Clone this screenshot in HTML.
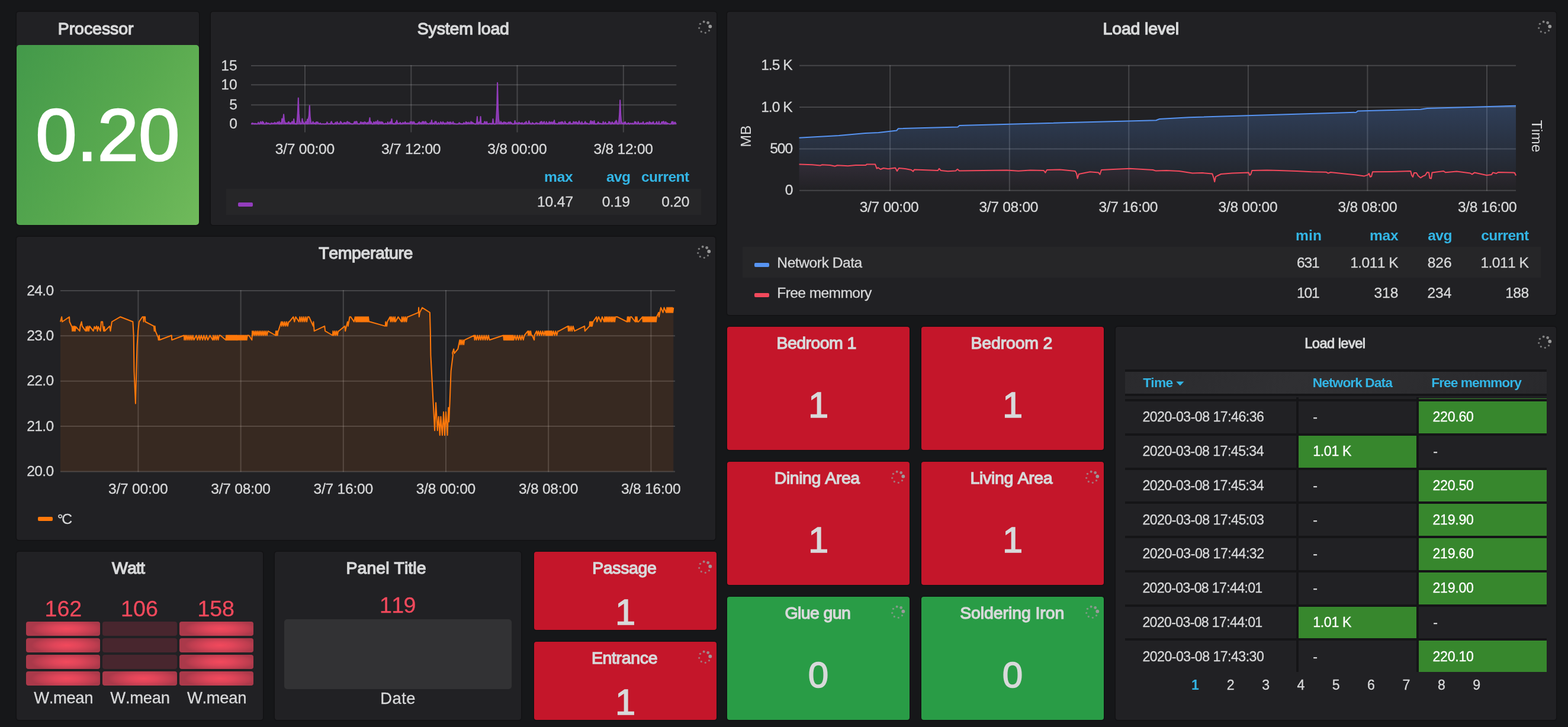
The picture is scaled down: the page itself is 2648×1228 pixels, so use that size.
<!DOCTYPE html>
<html lang="en"><head><meta charset="utf-8"><title>Home dashboard - Grafana</title>
<style>
html,body{margin:0;padding:0}
body{width:2648px;height:1228px;overflow:hidden;background:#161719;position:relative;
font-family:"Liberation Sans",sans-serif;color:#d8d9da;font-kerning:none;-webkit-font-smoothing:antialiased}
#root{position:absolute;left:0;top:0;width:2648px;height:1228px;will-change:transform}
.panel{position:absolute;background:#212124;border-radius:4px;box-shadow:0 0 0 1.5px #121214}
.tile{position:absolute;border-radius:4px;box-shadow:0 0 0 1.5px #121214}
.r{position:absolute}
.t{position:absolute;white-space:nowrap;color:#d8d9da}
.rot{line-height:1;transform-origin:50% 50%}
.ch{position:absolute;overflow:visible}
.sp{position:absolute}
.sp circle{fill:#9b9b9b}
.g{stroke:rgba(200,200,200,0.22);stroke-width:2}
</style></head>
<body>
<div id="root">
<div class="panel" id="p-processor" style="left:28px;top:20px;width:308px;height:360px"></div>
<div class="panel" id="p-sysload" style="left:356px;top:20px;width:854px;height:360px"></div>
<div class="panel" id="p-loadgraph" style="left:1228px;top:20px;width:1400px;height:512px"></div>
<div class="panel" id="p-temp" style="left:28px;top:400px;width:1180px;height:512px"></div>
<div class="panel" id="p-watt" style="left:28px;top:932px;width:416px;height:284px"></div>
<div class="panel" id="p-ptitle" style="left:464px;top:932px;width:416px;height:284px"></div>
<div class="panel" id="p-loadtable" style="left:1884px;top:552px;width:744px;height:664px"></div>
<!-- Processor -->
<span class="t title" style="left:97.71px;top:32px;font-size:28.50px;line-height:32px;letter-spacing:-0.050px;-webkit-text-stroke:1.30px #d8d9da;">Processor</span>
<div class="r" style="left:28px;top:76px;width:308px;height:304px;border-radius:5px;background:linear-gradient(120deg,#43994a 0%,#58a94f 52%,#70ba5b 100%)"></div>
<svg class="ch" style="left:28px;top:76px" width="308" height="304" viewBox="28 76 308 304"><text x="182" y="271.2" text-anchor="middle" font-family="'Liberation Sans',sans-serif" font-size="125" fill="#fff" stroke="#fff" stroke-width="2.5">0.20</text></svg>
<!-- System load -->
<span class="t title" style="left:704.77px;top:32px;font-size:28.50px;line-height:32px;letter-spacing:-0.161px;-webkit-text-stroke:1.30px #d8d9da;">System load</span>
<svg class="sp" style="left:1175.2px;top:31.0px" width="30" height="30" viewBox="-15 -15 30 30"><circle cx="9.31" cy="-1.31" r="2.90" opacity="1.00"/><circle cx="5.66" cy="-7.51" r="2.40" opacity="0.85"/><circle cx="-1.31" cy="-9.31" r="2.00" opacity="0.80"/><circle cx="-7.51" cy="-5.66" r="1.70" opacity="0.75"/><circle cx="-9.31" cy="1.31" r="1.60" opacity="0.70"/><circle cx="-5.66" cy="7.51" r="1.65" opacity="0.70"/><circle cx="1.31" cy="9.31" r="1.60" opacity="0.70"/><circle cx="7.51" cy="5.66" r="1.65" opacity="0.70"/></svg>
<svg class="ch" style="left:356px;top:20px" width="854" height="360" viewBox="356 20 854 360"><line x1="424" x2="1142.3" y1="111.0" y2="111.0" class="g"/><line x1="424" x2="1142.3" y1="143.2" y2="143.2" class="g"/><line x1="424" x2="1142.3" y1="177.3" y2="177.3" class="g"/><line x1="424" x2="1142.3" y1="209.4" y2="209.4" class="g"/><line x1="515.0" x2="515.0" y1="110" y2="223.5" class="g"/><line x1="694.3" x2="694.3" y1="110" y2="223.5" class="g"/><line x1="873.5" x2="873.5" y1="110" y2="223.5" class="g"/><line x1="1052.8" x2="1052.8" y1="110" y2="223.5" class="g"/><polygon points="424,210 424.0,209.1 424.9,209.4 425.9,207.8 426.8,209.5 427.8,208.4 428.7,209.0 429.7,209.5 430.6,208.5 431.6,209.5 432.5,208.8 433.5,209.5 434.4,209.5 435.4,208.8 436.3,206.6 437.3,209.5 438.2,209.3 439.2,207.9 440.1,205.6 441.1,208.2 442.0,208.9 443.0,205.3 443.9,209.5 444.9,206.4 445.8,209.2 446.8,209.4 447.7,209.5 448.7,209.2 449.6,206.7 450.6,209.4 451.5,208.2 452.5,207.9 453.4,209.0 454.4,208.3 455.3,209.5 456.3,209.5 457.2,209.4 458.2,207.6 459.1,208.8 460.1,209.2 461.0,208.1 462.0,208.7 462.9,209.2 463.9,206.8 464.8,207.5 465.8,209.3 466.7,208.2 467.7,208.4 468.6,206.2 469.6,207.3 470.5,209.2 471.5,205.3 472.4,209.5 473.4,208.9 474.3,207.1 475.3,209.4 476.2,200.6 477.2,206.2 478.1,201.8 479.1,193.2 480.0,202.4 481.0,206.2 481.9,209.2 482.9,207.5 483.8,208.1 484.8,208.2 485.7,208.7 486.7,206.5 487.6,205.6 488.6,208.6 489.5,207.7 490.5,209.5 491.4,207.5 492.4,207.8 493.3,205.2 494.3,206.6 495.2,209.2 496.2,201.0 497.1,207.7 498.1,209.5 499.0,208.7 500.0,209.4 500.9,209.5 501.9,202.9 502.8,190.2 503.8,165.6 504.7,191.9 505.7,203.8 506.6,206.2 507.6,209.5 508.5,208.7 509.5,208.3 510.4,200.5 511.4,206.7 512.3,206.3 513.3,209.2 514.2,208.9 515.2,209.0 516.1,206.1 517.1,205.5 518.0,209.4 519.0,201.5 519.9,209.3 520.9,200.0 521.8,195.6 522.8,178.5 523.7,196.8 524.7,205.1 525.6,208.9 526.6,209.0 527.5,208.2 528.5,205.5 529.4,207.6 530.4,208.5 531.3,208.0 532.3,207.6 533.2,209.5 534.2,206.0 535.2,207.0 536.1,206.2 537.1,206.8 538.0,208.9 539.0,208.9 539.9,209.5 540.9,207.9 541.8,209.5 542.8,209.5 543.7,209.4 544.7,209.4 545.6,209.1 546.6,209.5 547.5,209.5 548.5,209.4 549.4,209.5 550.4,209.0 551.3,209.5 552.3,206.2 553.2,208.0 554.2,209.4 555.1,209.3 556.1,209.1 557.0,209.0 558.0,209.5 558.9,206.4 559.9,205.2 560.8,208.7 561.8,208.6 562.7,209.5 563.7,209.5 564.6,209.1 565.6,209.3 566.5,206.6 567.5,209.4 568.4,209.5 569.4,205.6 570.3,208.4 571.3,209.4 572.2,208.4 573.2,209.5 574.1,208.4 575.1,205.3 576.0,206.3 577.0,207.5 577.9,209.3 578.9,209.0 579.8,209.4 580.8,207.0 581.7,208.4 582.7,207.0 583.6,209.1 584.6,209.3 585.5,206.7 586.5,205.2 587.4,206.4 588.4,206.8 589.3,206.7 590.3,207.2 591.2,209.3 592.2,208.5 593.1,209.0 594.1,209.5 595.0,209.5 596.0,209.2 596.9,209.3 597.9,207.5 598.8,205.5 599.8,208.8 600.7,205.7 601.7,205.2 602.6,205.5 603.6,209.0 604.5,209.3 605.5,209.3 606.4,209.4 607.4,209.4 608.3,207.9 609.3,206.0 610.2,206.5 611.2,208.6 612.1,207.8 613.1,206.8 614.0,209.5 615.0,207.7 615.9,205.9 616.9,206.9 617.8,207.2 618.8,208.6 619.7,209.4 620.7,206.9 621.6,209.1 622.6,206.8 623.5,205.4 624.5,199.0 625.4,208.9 626.4,205.6 627.3,207.3 628.3,209.4 629.2,209.5 630.2,209.4 631.1,206.0 632.1,206.8 633.0,209.4 634.0,206.6 634.9,205.3 635.9,207.8 636.8,209.1 637.8,203.4 638.7,209.4 639.7,209.5 640.6,205.4 641.6,207.8 642.5,208.4 643.5,205.7 644.4,208.8 645.4,206.2 646.3,206.6 647.3,209.4 648.2,209.3 649.2,209.2 650.1,209.3 651.1,208.1 652.0,209.3 653.0,208.9 653.9,209.4 654.9,205.9 655.8,209.1 656.8,208.7 657.7,208.2 658.7,206.0 659.6,208.8 660.6,205.9 661.5,201.0 662.5,208.4 663.4,208.4 664.4,209.5 665.3,208.8 666.3,209.4 667.2,209.5 668.2,206.8 669.1,209.4 670.1,203.5 671.0,207.3 672.0,208.3 672.9,209.1 673.9,208.5 674.8,208.3 675.8,206.9 676.7,209.5 677.7,208.3 678.6,209.3 679.6,209.2 680.5,207.0 681.5,208.5 682.4,208.3 683.4,207.1 684.3,205.9 685.3,208.8 686.2,208.0 687.2,208.5 688.1,208.5 689.1,207.5 690.0,208.7 691.0,208.4 691.9,208.6 692.9,205.6 693.8,207.5 694.8,206.2 695.7,205.6 696.7,209.3 697.6,208.3 698.6,205.6 699.5,206.5 700.5,209.4 701.4,209.5 702.4,208.8 703.3,209.5 704.3,209.3 705.2,209.5 706.2,207.7 707.1,206.9 708.1,206.0 709.0,209.4 710.0,207.4 710.9,207.7 711.9,209.4 712.8,206.2 713.8,205.4 714.7,209.3 715.7,205.5 716.6,208.9 717.6,208.6 718.5,205.2 719.5,206.6 720.4,209.4 721.4,208.8 722.3,208.5 723.3,209.1 724.2,209.4 725.2,209.1 726.1,207.4 727.1,209.5 728.0,208.3 729.0,203.0 729.9,209.5 730.9,209.1 731.8,207.9 732.8,208.5 733.7,209.5 734.7,205.2 735.6,206.9 736.6,205.4 737.5,209.5 738.5,209.3 739.4,209.5 740.4,207.0 741.3,209.3 742.3,209.5 743.2,208.8 744.2,205.9 745.1,206.7 746.1,209.3 747.0,209.4 748.0,205.8 748.9,208.2 749.9,207.5 750.8,209.5 751.8,209.5 752.7,207.6 753.7,208.8 754.6,209.5 755.6,205.7 756.5,207.9 757.5,206.8 758.4,209.5 759.4,206.4 760.3,209.5 761.3,206.3 762.2,208.7 763.2,209.1 764.1,208.3 765.1,205.8 766.0,209.3 767.0,209.5 767.9,208.4 768.9,209.3 769.8,209.5 770.8,209.4 771.7,209.5 772.7,209.4 773.6,209.2 774.6,209.2 775.5,207.1 776.5,209.2 777.4,208.5 778.4,209.4 779.3,209.1 780.3,209.5 781.2,209.3 782.2,209.5 783.1,207.3 784.1,208.3 785.0,209.4 786.0,208.6 786.9,205.7 787.9,209.5 788.8,206.7 789.8,208.8 790.7,208.6 791.7,206.5 792.6,208.9 793.6,208.5 794.5,207.6 795.5,205.3 796.4,209.1 797.4,206.6 798.3,207.4 799.3,207.9 800.2,208.9 801.2,209.1 802.1,209.5 803.1,209.5 804.0,209.5 805.0,207.2 805.9,197.0 806.9,209.4 807.8,209.5 808.8,206.5 809.7,206.3 810.7,207.7 811.6,197.0 812.6,209.3 813.5,209.2 814.5,208.7 815.4,209.4 816.4,208.8 817.3,209.3 818.3,205.5 819.2,205.4 820.2,208.3 821.1,209.3 822.1,205.4 823.0,209.2 824.0,209.0 824.9,209.5 825.9,209.0 826.8,208.6 827.8,208.5 828.7,209.4 829.7,208.5 830.6,209.5 831.6,209.3 832.5,201.0 833.5,208.9 834.4,209.5 835.4,209.5 836.3,209.2 837.3,209.3 838.2,199.8 839.2,179.4 840.1,139.8 841.1,182.1 842.0,201.2 843.0,206.2 843.9,208.9 844.9,209.1 845.8,205.2 846.8,209.4 847.7,207.3 848.7,207.8 849.6,209.5 850.6,206.5 851.5,206.1 852.5,207.9 853.4,207.3 854.4,206.7 855.3,209.4 856.3,208.4 857.2,208.5 858.2,206.5 859.1,206.8 860.1,206.6 861.0,208.2 862.0,206.1 862.9,207.6 863.9,207.5 864.8,209.3 865.8,209.5 866.7,209.4 867.7,209.0 868.6,209.5 869.6,204.0 870.5,208.3 871.5,207.9 872.4,207.9 873.4,207.6 874.3,208.6 875.3,209.5 876.2,206.8 877.2,207.2 878.1,208.5 879.1,208.4 880.0,207.7 881.0,209.5 881.9,207.3 882.9,209.3 883.8,209.5 884.8,209.3 885.7,207.3 886.7,209.4 887.6,207.2 888.6,205.3 889.5,208.6 890.5,209.0 891.4,208.6 892.4,207.6 893.3,204.3 894.3,208.0 895.2,207.8 896.2,209.5 897.1,209.4 898.1,209.3 899.0,207.2 900.0,209.2 900.9,208.2 901.9,209.5 902.8,209.5 903.8,209.3 904.7,207.7 905.7,207.5 906.6,207.6 907.6,209.2 908.5,208.5 909.5,208.7 910.4,208.7 911.4,209.5 912.3,206.1 913.3,209.4 914.2,205.3 915.2,205.7 916.1,209.5 917.1,208.7 918.0,206.7 919.0,205.4 919.9,208.7 920.9,209.3 921.8,209.4 922.8,205.6 923.7,209.4 924.7,208.2 925.6,209.4 926.6,208.4 927.5,205.5 928.5,209.4 929.4,206.7 930.4,208.5 931.3,206.1 932.3,207.5 933.2,209.3 934.2,206.0 935.1,208.6 936.1,203.2 937.0,209.5 938.0,208.6 938.9,208.7 939.9,209.2 940.8,209.4 941.8,209.1 942.7,209.2 943.7,206.5 944.6,209.5 945.6,207.2 946.5,206.5 947.5,209.5 948.4,205.8 949.4,207.4 950.3,206.0 951.3,209.2 952.2,209.0 953.2,208.9 954.1,205.1 955.1,208.1 956.0,209.0 957.0,208.8 957.9,209.2 958.9,209.5 959.8,209.5 960.8,206.5 961.7,209.2 962.7,205.7 963.6,209.3 964.6,209.3 965.5,208.5 966.5,209.4 967.4,209.0 968.4,205.5 969.3,206.1 970.3,206.7 971.2,207.9 972.2,205.9 973.1,205.7 974.1,208.3 975.0,207.4 976.0,209.5 976.9,207.3 977.9,204.5 978.8,207.1 979.8,207.8 980.7,209.2 981.7,209.5 982.6,205.8 983.6,209.5 984.5,208.7 985.5,209.1 986.4,209.2 987.4,207.2 988.3,205.3 989.3,209.3 990.2,207.8 991.2,209.2 992.1,208.3 993.1,208.9 994.0,209.4 995.0,209.4 995.9,209.4 996.9,206.0 997.8,204.0 998.8,209.3 999.7,206.0 1000.7,205.1 1001.6,208.7 1002.6,209.4 1003.5,204.0 1004.5,209.5 1005.4,209.1 1006.4,209.5 1007.3,209.3 1008.3,209.3 1009.2,208.2 1010.2,206.1 1011.1,207.2 1012.1,208.9 1013.0,208.9 1014.0,208.4 1014.9,209.0 1015.9,209.1 1016.8,209.5 1017.8,209.2 1018.7,205.4 1019.7,209.5 1020.6,208.5 1021.6,207.9 1022.5,206.3 1023.5,209.3 1024.4,209.3 1025.4,209.3 1026.3,208.9 1027.3,208.8 1028.2,205.5 1029.2,206.4 1030.1,206.2 1031.1,209.5 1032.0,209.5 1033.0,207.4 1033.9,206.0 1034.9,208.7 1035.8,208.1 1036.8,209.5 1037.7,208.9 1038.7,205.8 1039.6,206.6 1040.6,203.4 1041.5,205.4 1042.5,209.3 1043.4,209.5 1044.4,209.4 1045.3,203.3 1046.3,191.7 1047.2,169.2 1048.2,193.3 1049.1,204.1 1050.1,207.1 1051.0,208.7 1052.0,208.3 1052.9,209.5 1053.9,206.9 1054.8,209.3 1055.8,205.8 1056.7,207.8 1057.7,209.2 1058.6,209.5 1059.6,209.3 1060.5,207.9 1061.5,207.5 1062.4,209.5 1063.4,209.5 1064.3,208.4 1065.3,208.2 1066.2,209.0 1067.2,209.3 1068.1,208.1 1069.1,209.5 1070.0,209.2 1071.0,208.7 1071.9,205.5 1072.9,207.8 1073.8,206.1 1074.8,208.6 1075.7,209.3 1076.7,209.3 1077.6,205.5 1078.6,207.5 1079.5,209.2 1080.5,209.5 1081.4,208.5 1082.4,207.7 1083.3,208.8 1084.3,209.3 1085.2,207.7 1086.2,205.8 1087.1,209.3 1088.1,209.5 1089.0,209.1 1090.0,208.8 1090.9,207.6 1091.9,209.4 1092.8,206.8 1093.8,207.2 1094.7,208.5 1095.7,209.4 1096.6,205.4 1097.6,209.2 1098.5,206.7 1099.5,209.3 1100.4,209.3 1101.4,207.1 1102.3,209.2 1103.3,205.6 1104.2,208.6 1105.2,209.4 1106.1,209.3 1107.1,208.9 1108.0,207.7 1109.0,205.6 1109.9,209.4 1110.9,208.9 1111.8,209.4 1112.8,205.3 1113.7,209.4 1114.7,209.5 1115.6,209.5 1116.6,208.9 1117.5,206.0 1118.5,206.1 1119.4,207.3 1120.4,205.1 1121.3,205.7 1122.3,209.1 1123.2,209.4 1124.2,205.7 1125.1,207.2 1126.1,209.5 1127.0,207.7 1128.0,209.0 1128.9,209.0 1129.9,209.1 1130.8,209.4 1131.8,209.5 1132.7,209.2 1133.7,209.1 1134.6,205.5 1135.6,209.5 1136.5,205.4 1137.5,209.4 1138.4,209.0 1139.4,206.6 1140.3,206.6 1141.3,208.8 1142.2,209.5 1142.3,210" fill="#913cba" fill-opacity="0.85"/><polyline points="424.0,209.1 424.9,209.4 425.9,207.8 426.8,209.5 427.8,208.4 428.7,209.0 429.7,209.5 430.6,208.5 431.6,209.5 432.5,208.8 433.5,209.5 434.4,209.5 435.4,208.8 436.3,206.6 437.3,209.5 438.2,209.3 439.2,207.9 440.1,205.6 441.1,208.2 442.0,208.9 443.0,205.3 443.9,209.5 444.9,206.4 445.8,209.2 446.8,209.4 447.7,209.5 448.7,209.2 449.6,206.7 450.6,209.4 451.5,208.2 452.5,207.9 453.4,209.0 454.4,208.3 455.3,209.5 456.3,209.5 457.2,209.4 458.2,207.6 459.1,208.8 460.1,209.2 461.0,208.1 462.0,208.7 462.9,209.2 463.9,206.8 464.8,207.5 465.8,209.3 466.7,208.2 467.7,208.4 468.6,206.2 469.6,207.3 470.5,209.2 471.5,205.3 472.4,209.5 473.4,208.9 474.3,207.1 475.3,209.4 476.2,200.6 477.2,206.2 478.1,201.8 479.1,193.2 480.0,202.4 481.0,206.2 481.9,209.2 482.9,207.5 483.8,208.1 484.8,208.2 485.7,208.7 486.7,206.5 487.6,205.6 488.6,208.6 489.5,207.7 490.5,209.5 491.4,207.5 492.4,207.8 493.3,205.2 494.3,206.6 495.2,209.2 496.2,201.0 497.1,207.7 498.1,209.5 499.0,208.7 500.0,209.4 500.9,209.5 501.9,202.9 502.8,190.2 503.8,165.6 504.7,191.9 505.7,203.8 506.6,206.2 507.6,209.5 508.5,208.7 509.5,208.3 510.4,200.5 511.4,206.7 512.3,206.3 513.3,209.2 514.2,208.9 515.2,209.0 516.1,206.1 517.1,205.5 518.0,209.4 519.0,201.5 519.9,209.3 520.9,200.0 521.8,195.6 522.8,178.5 523.7,196.8 524.7,205.1 525.6,208.9 526.6,209.0 527.5,208.2 528.5,205.5 529.4,207.6 530.4,208.5 531.3,208.0 532.3,207.6 533.2,209.5 534.2,206.0 535.2,207.0 536.1,206.2 537.1,206.8 538.0,208.9 539.0,208.9 539.9,209.5 540.9,207.9 541.8,209.5 542.8,209.5 543.7,209.4 544.7,209.4 545.6,209.1 546.6,209.5 547.5,209.5 548.5,209.4 549.4,209.5 550.4,209.0 551.3,209.5 552.3,206.2 553.2,208.0 554.2,209.4 555.1,209.3 556.1,209.1 557.0,209.0 558.0,209.5 558.9,206.4 559.9,205.2 560.8,208.7 561.8,208.6 562.7,209.5 563.7,209.5 564.6,209.1 565.6,209.3 566.5,206.6 567.5,209.4 568.4,209.5 569.4,205.6 570.3,208.4 571.3,209.4 572.2,208.4 573.2,209.5 574.1,208.4 575.1,205.3 576.0,206.3 577.0,207.5 577.9,209.3 578.9,209.0 579.8,209.4 580.8,207.0 581.7,208.4 582.7,207.0 583.6,209.1 584.6,209.3 585.5,206.7 586.5,205.2 587.4,206.4 588.4,206.8 589.3,206.7 590.3,207.2 591.2,209.3 592.2,208.5 593.1,209.0 594.1,209.5 595.0,209.5 596.0,209.2 596.9,209.3 597.9,207.5 598.8,205.5 599.8,208.8 600.7,205.7 601.7,205.2 602.6,205.5 603.6,209.0 604.5,209.3 605.5,209.3 606.4,209.4 607.4,209.4 608.3,207.9 609.3,206.0 610.2,206.5 611.2,208.6 612.1,207.8 613.1,206.8 614.0,209.5 615.0,207.7 615.9,205.9 616.9,206.9 617.8,207.2 618.8,208.6 619.7,209.4 620.7,206.9 621.6,209.1 622.6,206.8 623.5,205.4 624.5,199.0 625.4,208.9 626.4,205.6 627.3,207.3 628.3,209.4 629.2,209.5 630.2,209.4 631.1,206.0 632.1,206.8 633.0,209.4 634.0,206.6 634.9,205.3 635.9,207.8 636.8,209.1 637.8,203.4 638.7,209.4 639.7,209.5 640.6,205.4 641.6,207.8 642.5,208.4 643.5,205.7 644.4,208.8 645.4,206.2 646.3,206.6 647.3,209.4 648.2,209.3 649.2,209.2 650.1,209.3 651.1,208.1 652.0,209.3 653.0,208.9 653.9,209.4 654.9,205.9 655.8,209.1 656.8,208.7 657.7,208.2 658.7,206.0 659.6,208.8 660.6,205.9 661.5,201.0 662.5,208.4 663.4,208.4 664.4,209.5 665.3,208.8 666.3,209.4 667.2,209.5 668.2,206.8 669.1,209.4 670.1,203.5 671.0,207.3 672.0,208.3 672.9,209.1 673.9,208.5 674.8,208.3 675.8,206.9 676.7,209.5 677.7,208.3 678.6,209.3 679.6,209.2 680.5,207.0 681.5,208.5 682.4,208.3 683.4,207.1 684.3,205.9 685.3,208.8 686.2,208.0 687.2,208.5 688.1,208.5 689.1,207.5 690.0,208.7 691.0,208.4 691.9,208.6 692.9,205.6 693.8,207.5 694.8,206.2 695.7,205.6 696.7,209.3 697.6,208.3 698.6,205.6 699.5,206.5 700.5,209.4 701.4,209.5 702.4,208.8 703.3,209.5 704.3,209.3 705.2,209.5 706.2,207.7 707.1,206.9 708.1,206.0 709.0,209.4 710.0,207.4 710.9,207.7 711.9,209.4 712.8,206.2 713.8,205.4 714.7,209.3 715.7,205.5 716.6,208.9 717.6,208.6 718.5,205.2 719.5,206.6 720.4,209.4 721.4,208.8 722.3,208.5 723.3,209.1 724.2,209.4 725.2,209.1 726.1,207.4 727.1,209.5 728.0,208.3 729.0,203.0 729.9,209.5 730.9,209.1 731.8,207.9 732.8,208.5 733.7,209.5 734.7,205.2 735.6,206.9 736.6,205.4 737.5,209.5 738.5,209.3 739.4,209.5 740.4,207.0 741.3,209.3 742.3,209.5 743.2,208.8 744.2,205.9 745.1,206.7 746.1,209.3 747.0,209.4 748.0,205.8 748.9,208.2 749.9,207.5 750.8,209.5 751.8,209.5 752.7,207.6 753.7,208.8 754.6,209.5 755.6,205.7 756.5,207.9 757.5,206.8 758.4,209.5 759.4,206.4 760.3,209.5 761.3,206.3 762.2,208.7 763.2,209.1 764.1,208.3 765.1,205.8 766.0,209.3 767.0,209.5 767.9,208.4 768.9,209.3 769.8,209.5 770.8,209.4 771.7,209.5 772.7,209.4 773.6,209.2 774.6,209.2 775.5,207.1 776.5,209.2 777.4,208.5 778.4,209.4 779.3,209.1 780.3,209.5 781.2,209.3 782.2,209.5 783.1,207.3 784.1,208.3 785.0,209.4 786.0,208.6 786.9,205.7 787.9,209.5 788.8,206.7 789.8,208.8 790.7,208.6 791.7,206.5 792.6,208.9 793.6,208.5 794.5,207.6 795.5,205.3 796.4,209.1 797.4,206.6 798.3,207.4 799.3,207.9 800.2,208.9 801.2,209.1 802.1,209.5 803.1,209.5 804.0,209.5 805.0,207.2 805.9,197.0 806.9,209.4 807.8,209.5 808.8,206.5 809.7,206.3 810.7,207.7 811.6,197.0 812.6,209.3 813.5,209.2 814.5,208.7 815.4,209.4 816.4,208.8 817.3,209.3 818.3,205.5 819.2,205.4 820.2,208.3 821.1,209.3 822.1,205.4 823.0,209.2 824.0,209.0 824.9,209.5 825.9,209.0 826.8,208.6 827.8,208.5 828.7,209.4 829.7,208.5 830.6,209.5 831.6,209.3 832.5,201.0 833.5,208.9 834.4,209.5 835.4,209.5 836.3,209.2 837.3,209.3 838.2,199.8 839.2,179.4 840.1,139.8 841.1,182.1 842.0,201.2 843.0,206.2 843.9,208.9 844.9,209.1 845.8,205.2 846.8,209.4 847.7,207.3 848.7,207.8 849.6,209.5 850.6,206.5 851.5,206.1 852.5,207.9 853.4,207.3 854.4,206.7 855.3,209.4 856.3,208.4 857.2,208.5 858.2,206.5 859.1,206.8 860.1,206.6 861.0,208.2 862.0,206.1 862.9,207.6 863.9,207.5 864.8,209.3 865.8,209.5 866.7,209.4 867.7,209.0 868.6,209.5 869.6,204.0 870.5,208.3 871.5,207.9 872.4,207.9 873.4,207.6 874.3,208.6 875.3,209.5 876.2,206.8 877.2,207.2 878.1,208.5 879.1,208.4 880.0,207.7 881.0,209.5 881.9,207.3 882.9,209.3 883.8,209.5 884.8,209.3 885.7,207.3 886.7,209.4 887.6,207.2 888.6,205.3 889.5,208.6 890.5,209.0 891.4,208.6 892.4,207.6 893.3,204.3 894.3,208.0 895.2,207.8 896.2,209.5 897.1,209.4 898.1,209.3 899.0,207.2 900.0,209.2 900.9,208.2 901.9,209.5 902.8,209.5 903.8,209.3 904.7,207.7 905.7,207.5 906.6,207.6 907.6,209.2 908.5,208.5 909.5,208.7 910.4,208.7 911.4,209.5 912.3,206.1 913.3,209.4 914.2,205.3 915.2,205.7 916.1,209.5 917.1,208.7 918.0,206.7 919.0,205.4 919.9,208.7 920.9,209.3 921.8,209.4 922.8,205.6 923.7,209.4 924.7,208.2 925.6,209.4 926.6,208.4 927.5,205.5 928.5,209.4 929.4,206.7 930.4,208.5 931.3,206.1 932.3,207.5 933.2,209.3 934.2,206.0 935.1,208.6 936.1,203.2 937.0,209.5 938.0,208.6 938.9,208.7 939.9,209.2 940.8,209.4 941.8,209.1 942.7,209.2 943.7,206.5 944.6,209.5 945.6,207.2 946.5,206.5 947.5,209.5 948.4,205.8 949.4,207.4 950.3,206.0 951.3,209.2 952.2,209.0 953.2,208.9 954.1,205.1 955.1,208.1 956.0,209.0 957.0,208.8 957.9,209.2 958.9,209.5 959.8,209.5 960.8,206.5 961.7,209.2 962.7,205.7 963.6,209.3 964.6,209.3 965.5,208.5 966.5,209.4 967.4,209.0 968.4,205.5 969.3,206.1 970.3,206.7 971.2,207.9 972.2,205.9 973.1,205.7 974.1,208.3 975.0,207.4 976.0,209.5 976.9,207.3 977.9,204.5 978.8,207.1 979.8,207.8 980.7,209.2 981.7,209.5 982.6,205.8 983.6,209.5 984.5,208.7 985.5,209.1 986.4,209.2 987.4,207.2 988.3,205.3 989.3,209.3 990.2,207.8 991.2,209.2 992.1,208.3 993.1,208.9 994.0,209.4 995.0,209.4 995.9,209.4 996.9,206.0 997.8,204.0 998.8,209.3 999.7,206.0 1000.7,205.1 1001.6,208.7 1002.6,209.4 1003.5,204.0 1004.5,209.5 1005.4,209.1 1006.4,209.5 1007.3,209.3 1008.3,209.3 1009.2,208.2 1010.2,206.1 1011.1,207.2 1012.1,208.9 1013.0,208.9 1014.0,208.4 1014.9,209.0 1015.9,209.1 1016.8,209.5 1017.8,209.2 1018.7,205.4 1019.7,209.5 1020.6,208.5 1021.6,207.9 1022.5,206.3 1023.5,209.3 1024.4,209.3 1025.4,209.3 1026.3,208.9 1027.3,208.8 1028.2,205.5 1029.2,206.4 1030.1,206.2 1031.1,209.5 1032.0,209.5 1033.0,207.4 1033.9,206.0 1034.9,208.7 1035.8,208.1 1036.8,209.5 1037.7,208.9 1038.7,205.8 1039.6,206.6 1040.6,203.4 1041.5,205.4 1042.5,209.3 1043.4,209.5 1044.4,209.4 1045.3,203.3 1046.3,191.7 1047.2,169.2 1048.2,193.3 1049.1,204.1 1050.1,207.1 1051.0,208.7 1052.0,208.3 1052.9,209.5 1053.9,206.9 1054.8,209.3 1055.8,205.8 1056.7,207.8 1057.7,209.2 1058.6,209.5 1059.6,209.3 1060.5,207.9 1061.5,207.5 1062.4,209.5 1063.4,209.5 1064.3,208.4 1065.3,208.2 1066.2,209.0 1067.2,209.3 1068.1,208.1 1069.1,209.5 1070.0,209.2 1071.0,208.7 1071.9,205.5 1072.9,207.8 1073.8,206.1 1074.8,208.6 1075.7,209.3 1076.7,209.3 1077.6,205.5 1078.6,207.5 1079.5,209.2 1080.5,209.5 1081.4,208.5 1082.4,207.7 1083.3,208.8 1084.3,209.3 1085.2,207.7 1086.2,205.8 1087.1,209.3 1088.1,209.5 1089.0,209.1 1090.0,208.8 1090.9,207.6 1091.9,209.4 1092.8,206.8 1093.8,207.2 1094.7,208.5 1095.7,209.4 1096.6,205.4 1097.6,209.2 1098.5,206.7 1099.5,209.3 1100.4,209.3 1101.4,207.1 1102.3,209.2 1103.3,205.6 1104.2,208.6 1105.2,209.4 1106.1,209.3 1107.1,208.9 1108.0,207.7 1109.0,205.6 1109.9,209.4 1110.9,208.9 1111.8,209.4 1112.8,205.3 1113.7,209.4 1114.7,209.5 1115.6,209.5 1116.6,208.9 1117.5,206.0 1118.5,206.1 1119.4,207.3 1120.4,205.1 1121.3,205.7 1122.3,209.1 1123.2,209.4 1124.2,205.7 1125.1,207.2 1126.1,209.5 1127.0,207.7 1128.0,209.0 1128.9,209.0 1129.9,209.1 1130.8,209.4 1131.8,209.5 1132.7,209.2 1133.7,209.1 1134.6,205.5 1135.6,209.5 1136.5,205.4 1137.5,209.4 1138.4,209.0 1139.4,206.6 1140.3,206.6 1141.3,208.8 1142.2,209.5" fill="none" stroke="#933dbd" stroke-width="2" stroke-linejoin="round"/></svg>
<span class="t" style="left:373.28px;top:97px;font-size:24.60px;line-height:27px;letter-spacing:0.019px;-webkit-text-stroke:0.30px #d8d9da;">15</span>
<span class="t" style="left:373.28px;top:129px;font-size:24.60px;line-height:27px;letter-spacing:-0.055px;-webkit-text-stroke:0.30px #d8d9da;">10</span>
<span class="t" style="left:387.17px;top:163px;font-size:24.60px;line-height:27px;-webkit-text-stroke:0.30px #d8d9da;">5</span>
<span class="t" style="left:387.15px;top:195px;font-size:24.60px;line-height:27px;-webkit-text-stroke:0.30px #d8d9da;">0</span>
<span class="t" style="left:464.82px;top:238px;font-size:24.60px;line-height:27px;letter-spacing:-0.277px;-webkit-text-stroke:0.30px #d8d9da;">3/7 00:00</span>
<span class="t" style="left:644.12px;top:238px;font-size:24.60px;line-height:27px;letter-spacing:-0.277px;-webkit-text-stroke:0.30px #d8d9da;">3/7 12:00</span>
<span class="t" style="left:823.32px;top:238px;font-size:24.60px;line-height:27px;letter-spacing:-0.277px;-webkit-text-stroke:0.30px #d8d9da;">3/8 00:00</span>
<span class="t" style="left:1002.62px;top:238px;font-size:24.60px;line-height:27px;letter-spacing:-0.277px;-webkit-text-stroke:0.30px #d8d9da;">3/8 12:00</span>
<span class="t" style="left:919.10px;top:285px;font-size:24.60px;line-height:27px;letter-spacing:-0.331px;font-weight:700;color:#33b5e5;">max</span>
<span class="t" style="left:1023.89px;top:285px;font-size:24.60px;line-height:27px;letter-spacing:-0.616px;font-weight:700;color:#33b5e5;">avg</span>
<span class="t" style="left:1082.94px;top:285px;font-size:24.60px;line-height:27px;letter-spacing:-0.583px;font-weight:700;color:#33b5e5;">current</span>
<div class="r" style="left:382.00px;top:318.80px;width:802.00px;height:44.20px;background:#262628;"></div>
<div class="r" style="left:402.00px;top:342.00px;width:25.30px;height:7.20px;background:#933dbd;border-radius:2px"></div>
<span class="t" style="left:906.88px;top:327px;font-size:24.60px;line-height:27px;letter-spacing:-0.089px;-webkit-text-stroke:0.30px #d8d9da;">10.47</span>
<span class="t" style="left:1016.69px;top:327px;font-size:24.60px;line-height:27px;letter-spacing:-0.186px;-webkit-text-stroke:0.30px #d8d9da;">0.19</span>
<span class="t" style="left:1117.19px;top:327px;font-size:24.60px;line-height:27px;letter-spacing:-0.227px;-webkit-text-stroke:0.30px #d8d9da;">0.20</span>
<!-- Load level graph -->
<span class="t title" style="left:1862.51px;top:32px;font-size:28.50px;line-height:32px;letter-spacing:-0.157px;-webkit-text-stroke:1.30px #d8d9da;">Load level</span>
<svg class="sp" style="left:2593.4px;top:31.1px" width="30" height="30" viewBox="-15 -15 30 30"><circle cx="9.31" cy="-1.31" r="2.90" opacity="1.00"/><circle cx="5.66" cy="-7.51" r="2.40" opacity="0.85"/><circle cx="-1.31" cy="-9.31" r="2.00" opacity="0.80"/><circle cx="-7.51" cy="-5.66" r="1.70" opacity="0.75"/><circle cx="-9.31" cy="1.31" r="1.60" opacity="0.70"/><circle cx="-5.66" cy="7.51" r="1.65" opacity="0.70"/><circle cx="1.31" cy="9.31" r="1.60" opacity="0.70"/><circle cx="7.51" cy="5.66" r="1.65" opacity="0.70"/></svg>
<svg class="ch" style="left:1228px;top:20px" width="1400" height="512" viewBox="1228 20 1400 512"><defs><linearGradient id="gb" x1="0" y1="178" x2="0" y2="322" gradientUnits="userSpaceOnUse"><stop offset="0" stop-color="#5794f2" stop-opacity="0.26"/><stop offset="1" stop-color="#5794f2" stop-opacity="0.0"/></linearGradient><linearGradient id="gr" x1="0" y1="277" x2="0" y2="322" gradientUnits="userSpaceOnUse"><stop offset="0" stop-color="#f2495c" stop-opacity="0.06"/><stop offset="1" stop-color="#f2495c" stop-opacity="0.0"/></linearGradient></defs><line x1="1350" x2="2560" y1="110.8" y2="110.8" class="g"/><line x1="1350" x2="2560" y1="181.1" y2="181.1" class="g"/><line x1="1350" x2="2560" y1="251.4" y2="251.4" class="g"/><line x1="1350" x2="2560" y1="321.7" y2="321.7" class="g"/><line x1="1503.2" x2="1503.2" y1="110" y2="322.5" class="g"/><line x1="1704.8" x2="1704.8" y1="110" y2="322.5" class="g"/><line x1="1906.3" x2="1906.3" y1="110" y2="322.5" class="g"/><line x1="2107.9" x2="2107.9" y1="110" y2="322.5" class="g"/><line x1="2309.4" x2="2309.4" y1="110" y2="322.5" class="g"/><line x1="2511.0" x2="2511.0" y1="110" y2="322.5" class="g"/><polygon points="1349.6,321.7 1349.6,232.8 1416.5,228.9 1461.2,225.0 1483.5,223.9 1514.2,220.5 1517.0,217.2 1617.5,214.4 1620.3,212.1 1952.4,203.2 1958.0,201.0 2008.2,198.2 2290.2,189.8 2293.0,187.6 2399.0,184.8 2410.2,183.1 2560.0,178.8 2560,321.7" fill="url(#gb)"/><polygon points="1349.6,321.7 1349.6,277.4 1372.0,278.2 1385.0,279.6 1388.0,278.3 1402.0,279.0 1410.0,280.8 1414.0,279.2 1432.0,280.3 1445.0,279.0 1462.0,279.0 1464.0,277.4 1478.0,277.4 1480.7,284.7 1483.0,283.2 1487.0,286.0 1492.0,284.0 1500.0,285.2 1512.0,283.6 1515.0,289.0 1518.0,284.0 1530.0,285.2 1539.0,287.0 1542.0,289.6 1544.0,286.6 1584.0,288.0 1586.0,284.8 1589.0,288.0 1600.8,289.2 1614.0,288.4 1617.0,285.8 1620.0,288.6 1660.0,288.0 1700.0,287.4 1720.0,288.8 1740.0,287.4 1762.6,288.0 1765.4,291.6 1768.0,287.0 1790.0,286.6 1815.7,289.0 1818.0,293.0 1819.6,301.4 1822.0,294.0 1840.8,290.3 1855.0,291.4 1857.5,294.7 1860.0,287.0 1880.0,286.0 1907.8,284.7 1930.0,286.0 1947.0,287.0 1952.0,288.6 1970.0,288.0 1991.5,289.0 2013.8,292.5 2030.0,292.0 2047.3,293.6 2049.5,300.0 2051.2,307.0 2053.0,298.5 2055.7,297.0 2062.0,294.0 2080.8,292.5 2108.7,291.4 2110.5,296.0 2112.5,294.0 2114.3,288.0 2140.0,287.6 2160.0,288.0 2190.0,289.0 2214.8,290.3 2240.0,290.8 2243.0,292.6 2247.0,291.0 2270.6,293.6 2290.0,295.4 2304.0,297.4 2310.0,295.4 2312.0,293.0 2314.0,298.8 2316.0,298.0 2318.0,290.3 2350.0,290.0 2382.3,289.0 2384.0,296.0 2386.0,299.0 2388.0,292.0 2392.0,292.0 2395.0,297.0 2399.0,300.3 2403.0,297.6 2407.0,296.0 2410.0,291.0 2413.0,291.4 2414.6,301.0 2417.0,301.4 2418.5,291.4 2438.0,289.0 2441.0,291.2 2460.0,289.4 2482.8,292.5 2486.0,294.4 2490.0,291.6 2510.6,295.9 2519.0,295.0 2521.0,291.4 2527.0,293.0 2530.0,291.0 2555.3,291.4 2558.0,292.0 2560.0,296.5 2560,321.7" fill="url(#gr)"/><polyline points="1349.6,232.8 1416.5,228.9 1461.2,225.0 1483.5,223.9 1514.2,220.5 1517.0,217.2 1617.5,214.4 1620.3,212.1 1952.4,203.2 1958.0,201.0 2008.2,198.2 2290.2,189.8 2293.0,187.6 2399.0,184.8 2410.2,183.1 2560.0,178.8" fill="none" stroke="#5794f2" stroke-width="2" stroke-linejoin="round"/><polyline points="1349.6,277.4 1372.0,278.2 1385.0,279.6 1388.0,278.3 1402.0,279.0 1410.0,280.8 1414.0,279.2 1432.0,280.3 1445.0,279.0 1462.0,279.0 1464.0,277.4 1478.0,277.4 1480.7,284.7 1483.0,283.2 1487.0,286.0 1492.0,284.0 1500.0,285.2 1512.0,283.6 1515.0,289.0 1518.0,284.0 1530.0,285.2 1539.0,287.0 1542.0,289.6 1544.0,286.6 1584.0,288.0 1586.0,284.8 1589.0,288.0 1600.8,289.2 1614.0,288.4 1617.0,285.8 1620.0,288.6 1660.0,288.0 1700.0,287.4 1720.0,288.8 1740.0,287.4 1762.6,288.0 1765.4,291.6 1768.0,287.0 1790.0,286.6 1815.7,289.0 1818.0,293.0 1819.6,301.4 1822.0,294.0 1840.8,290.3 1855.0,291.4 1857.5,294.7 1860.0,287.0 1880.0,286.0 1907.8,284.7 1930.0,286.0 1947.0,287.0 1952.0,288.6 1970.0,288.0 1991.5,289.0 2013.8,292.5 2030.0,292.0 2047.3,293.6 2049.5,300.0 2051.2,307.0 2053.0,298.5 2055.7,297.0 2062.0,294.0 2080.8,292.5 2108.7,291.4 2110.5,296.0 2112.5,294.0 2114.3,288.0 2140.0,287.6 2160.0,288.0 2190.0,289.0 2214.8,290.3 2240.0,290.8 2243.0,292.6 2247.0,291.0 2270.6,293.6 2290.0,295.4 2304.0,297.4 2310.0,295.4 2312.0,293.0 2314.0,298.8 2316.0,298.0 2318.0,290.3 2350.0,290.0 2382.3,289.0 2384.0,296.0 2386.0,299.0 2388.0,292.0 2392.0,292.0 2395.0,297.0 2399.0,300.3 2403.0,297.6 2407.0,296.0 2410.0,291.0 2413.0,291.4 2414.6,301.0 2417.0,301.4 2418.5,291.4 2438.0,289.0 2441.0,291.2 2460.0,289.4 2482.8,292.5 2486.0,294.4 2490.0,291.6 2510.6,295.9 2519.0,295.0 2521.0,291.4 2527.0,293.0 2530.0,291.0 2555.3,291.4 2558.0,292.0 2560.0,296.5" fill="none" stroke="#f2495c" stroke-width="2" stroke-linejoin="round"/></svg>
<span class="t" style="left:1285.18px;top:96px;font-size:24.60px;line-height:27px;letter-spacing:-1.000px;-webkit-text-stroke:0.30px #d8d9da;">1.5 K</span>
<span class="t" style="left:1285.18px;top:167px;font-size:24.60px;line-height:27px;letter-spacing:-1.000px;-webkit-text-stroke:0.30px #d8d9da;">1.0 K</span>
<span class="t" style="left:1300.17px;top:237px;font-size:24.60px;line-height:27px;letter-spacing:-0.961px;-webkit-text-stroke:0.30px #d8d9da;">500</span>
<span class="t" style="left:1325.80px;top:307px;font-size:24.60px;line-height:27px;-webkit-text-stroke:0.30px #d8d9da;">0</span>
<span class="t" style="left:1451.72px;top:336px;font-size:24.60px;line-height:27px;letter-spacing:-0.327px;-webkit-text-stroke:0.30px #d8d9da;">3/7 00:00</span>
<span class="t" style="left:1653.52px;top:336px;font-size:24.60px;line-height:27px;letter-spacing:-0.327px;-webkit-text-stroke:0.30px #d8d9da;">3/7 08:00</span>
<span class="t" style="left:1855.52px;top:336px;font-size:24.60px;line-height:27px;letter-spacing:-0.327px;-webkit-text-stroke:0.30px #d8d9da;">3/7 16:00</span>
<span class="t" style="left:2057.62px;top:336px;font-size:24.60px;line-height:27px;letter-spacing:-0.327px;-webkit-text-stroke:0.30px #d8d9da;">3/8 00:00</span>
<span class="t" style="left:2259.62px;top:336px;font-size:24.60px;line-height:27px;letter-spacing:-0.327px;-webkit-text-stroke:0.30px #d8d9da;">3/8 08:00</span>
<span class="t" style="left:2461.92px;top:336px;font-size:24.60px;line-height:27px;letter-spacing:-0.340px;-webkit-text-stroke:0.30px #d8d9da;">3/8 16:00</span>
<span class="t rot" style="left:1260.4px;top:229.6px;font-size:24.6px;transform:translate(-50%,-50%) rotate(-90deg)">MB</span>
<span class="t rot" style="left:2594.8px;top:229.6px;font-size:24.6px;transform:translate(-50%,-50%) rotate(90deg)">Time</span>
<span class="t" style="left:2188.10px;top:384px;font-size:24.60px;line-height:27px;letter-spacing:0.093px;font-weight:700;color:#33b5e5;">min</span>
<span class="t" style="left:2312.90px;top:384px;font-size:24.60px;line-height:27px;letter-spacing:-0.231px;font-weight:700;color:#33b5e5;">max</span>
<span class="t" style="left:2411.29px;top:384px;font-size:24.60px;line-height:27px;letter-spacing:-0.616px;font-weight:700;color:#33b5e5;">avg</span>
<span class="t" style="left:2501.24px;top:384px;font-size:24.60px;line-height:27px;letter-spacing:-0.650px;font-weight:700;color:#33b5e5;">current</span>
<div class="r" style="left:1254.30px;top:417.30px;width:1347.90px;height:51.80px;background:#262628;"></div>
<div class="r" style="left:1274.00px;top:444.00px;width:25.30px;height:7.20px;background:#5794f2;border-radius:2px"></div>
<div class="r" style="left:1274.00px;top:495.00px;width:25.30px;height:7.30px;background:#f2495c;border-radius:2px"></div>
<span class="t" style="left:1312.33px;top:430px;font-size:24.60px;line-height:27px;letter-spacing:-0.457px;-webkit-text-stroke:0.30px #d8d9da;">Network Data</span>
<span class="t" style="left:1312.33px;top:481px;font-size:24.60px;line-height:27px;letter-spacing:-0.617px;-webkit-text-stroke:0.30px #d8d9da;">Free memmory</span>
<span class="t" style="left:2189.92px;top:430px;font-size:24.60px;line-height:27px;letter-spacing:-1.165px;-webkit-text-stroke:0.30px #d8d9da;">631</span>
<span class="t" style="left:2280.18px;top:430px;font-size:24.60px;line-height:27px;letter-spacing:-0.560px;-webkit-text-stroke:0.30px #d8d9da;">1.011 K</span>
<span class="t" style="left:2410.69px;top:430px;font-size:24.60px;line-height:27px;letter-spacing:-0.012px;-webkit-text-stroke:0.30px #d8d9da;">826</span>
<span class="t" style="left:2500.48px;top:430px;font-size:24.60px;line-height:27px;letter-spacing:-0.560px;-webkit-text-stroke:0.30px #d8d9da;">1.011 K</span>
<span class="t" style="left:2189.88px;top:481px;font-size:24.60px;line-height:27px;letter-spacing:-1.145px;-webkit-text-stroke:0.30px #d8d9da;">101</span>
<span class="t" style="left:2320.52px;top:481px;font-size:24.60px;line-height:27px;letter-spacing:-0.074px;-webkit-text-stroke:0.30px #d8d9da;">318</span>
<span class="t" style="left:2410.52px;top:481px;font-size:24.60px;line-height:27px;letter-spacing:-0.099px;-webkit-text-stroke:0.30px #d8d9da;">234</span>
<span class="t" style="left:2542.28px;top:481px;font-size:24.60px;line-height:27px;letter-spacing:-0.607px;-webkit-text-stroke:0.30px #d8d9da;">188</span>
<!-- Temperature -->
<span class="t title" style="left:538.22px;top:411px;font-size:28.50px;line-height:32px;letter-spacing:-0.397px;-webkit-text-stroke:1.30px #d8d9da;">Temperature</span>
<svg class="sp" style="left:1173.3px;top:411.3px" width="30" height="30" viewBox="-15 -15 30 30"><circle cx="9.31" cy="-1.31" r="2.90" opacity="1.00"/><circle cx="5.66" cy="-7.51" r="2.40" opacity="0.85"/><circle cx="-1.31" cy="-9.31" r="2.00" opacity="0.80"/><circle cx="-7.51" cy="-5.66" r="1.70" opacity="0.75"/><circle cx="-9.31" cy="1.31" r="1.60" opacity="0.70"/><circle cx="-5.66" cy="7.51" r="1.65" opacity="0.70"/><circle cx="1.31" cy="9.31" r="1.60" opacity="0.70"/><circle cx="7.51" cy="5.66" r="1.65" opacity="0.70"/></svg>
<svg class="ch" style="left:28px;top:400px" width="1180" height="512" viewBox="28 400 1180 512"><line x1="102" x2="1140" y1="491.0" y2="491.0" class="g"/><line x1="102" x2="1140" y1="567.3" y2="567.3" class="g"/><line x1="102" x2="1140" y1="643.7" y2="643.7" class="g"/><line x1="102" x2="1140" y1="720.0" y2="720.0" class="g"/><line x1="102" x2="1140" y1="796.4" y2="796.4" class="g"/><line x1="233.4" x2="233.4" y1="490" y2="797.3" class="g"/><line x1="406.6" x2="406.6" y1="490" y2="797.3" class="g"/><line x1="579.8" x2="579.8" y1="490" y2="797.3" class="g"/><line x1="753.0" x2="753.0" y1="490" y2="797.3" class="g"/><line x1="926.2" x2="926.2" y1="490" y2="797.3" class="g"/><line x1="1099.4" x2="1099.4" y1="490" y2="797.3" class="g"/><polygon points="102.0,796.4 102.0,543.5 104.2,535.2 105.1,543.5 117.1,535.2 117.5,543.5 121.7,552.7 122.2,559.2 123.5,550.9 124.5,559.2 125.9,550.9 126.7,559.2 128.1,551.8 134.6,559.2 135.5,550.9 137.7,543.5 138.8,550.9 144.7,559.2 145.6,551.8 147.1,559.2 148.4,550.9 149.9,559.2 151.3,550.9 157.6,559.2 159.4,551.8 161.3,555.5 163.1,550.9 164.6,559.2 165.9,551.8 169.6,559.2 170.9,543.5 173.2,543.5 173.8,551.8 175.3,559.2 176.2,551.8 176.9,559.2 185.2,550.9 186.5,559.2 188.9,543.5 203.3,535.2 224.4,543.5 225.7,566.5 226.5,627.3 228.9,681.6 230.3,627.3 231.6,583.1 233.1,559.2 234.9,543.5 240.5,535.2 242.3,535.2 242.5,543.5 243.4,535.2 245.1,535.2 245.4,543.5 259.8,550.9 260.7,559.2 261.6,550.9 262.5,559.2 267.1,570.2 267.7,574.3 269.0,566.5 269.4,574.3 289.8,566.5 290.2,574.3 310.8,566.5 311.3,574.3 313.2,566.5 314.1,574.3 315.8,566.5 317.4,574.3 319.1,566.5 320.7,574.3 322.4,566.5 324.0,574.3 325.7,566.5 327.4,574.3 331.6,566.5 333.4,574.3 336.2,566.5 337.7,574.3 339.9,566.5 342.1,574.3 344.3,566.5 346.5,574.3 348.7,566.5 350.9,574.3 354.6,566.5 359.2,574.3 360.1,566.5 361.8,574.3 363.4,566.5 365.1,574.3 366.8,566.5 368.4,574.3 370.1,566.5 372.1,566.5 381.3,574.3 382.2,566.5 383.1,574.3 384.1,566.5 385.0,574.3 385.9,566.5 386.8,574.3 387.7,566.5 388.7,574.3 389.6,566.5 390.5,574.3 391.4,566.5 392.3,574.3 393.3,566.5 394.2,574.3 395.1,566.5 396.0,574.3 396.9,566.5 397.9,574.3 398.8,566.5 399.7,574.3 400.0,566.5 401.1,574.3 402.2,566.5 403.3,574.3 404.4,566.5 405.5,574.3 406.6,566.5 407.7,574.3 408.8,566.5 409.9,574.3 411.0,566.5 412.2,574.3 413.3,566.5 414.4,574.3 415.5,566.5 416.6,574.3 417.7,566.5 420.3,566.5 425.4,574.3 426.1,559.2 427.2,566.5 428.7,559.2 430.2,566.5 431.7,559.2 433.1,566.5 434.6,559.2 436.1,566.5 437.6,559.2 439.0,566.5 440.5,559.2 442.0,566.5 443.5,559.2 444.9,566.5 446.4,559.2 447.9,566.5 449.3,559.2 450.8,566.5 452.5,559.2 465.4,566.5 465.9,559.2 466.8,566.5 467.8,559.2 468.7,566.5 469.6,559.2 470.0,559.2 475.1,543.5 475.9,550.9 477.5,543.5 479.2,550.9 480.8,543.5 482.5,550.9 484.1,543.5 485.8,550.9 487.5,543.5 488.7,543.5 495.4,535.2 497.2,543.5 499.4,535.2 504.9,543.5 506.4,535.2 508.1,543.5 509.7,535.2 511.4,543.5 513.0,535.2 514.7,543.5 516.4,535.2 518.0,543.5 519.7,535.2 521.9,535.2 528.9,550.9 529.4,543.5 530.7,559.2 548.2,550.9 549.1,559.2 561.7,566.5 562.4,559.2 563.9,566.5 565.3,559.2 566.8,566.5 568.3,559.2 569.8,566.5 571.2,559.2 572.1,559.2 582.3,550.9 583.2,559.2 585.0,550.9 586.9,543.5 587.8,550.9 590.6,535.2 592.4,535.2 597.9,543.5 599.8,535.2 601.1,543.5 602.2,535.2 603.3,543.5 604.4,535.2 605.5,543.5 606.6,535.2 607.7,543.5 608.8,535.2 609.9,543.5 611.0,535.2 612.1,543.5 613.2,535.2 614.3,543.5 615.4,535.2 616.5,543.5 617.6,535.2 618.7,543.5 619.8,535.2 620.9,543.5 622.0,535.2 623.1,543.5 624.6,543.5 650.8,550.9 651.3,543.5 653.2,550.9 654.1,543.5 658.7,535.2 659.6,543.5 661.1,535.2 662.5,543.5 664.0,535.2 665.5,543.5 667.0,535.2 667.9,543.5 672.5,535.2 678.0,543.5 678.9,535.2 680.4,543.5 681.9,535.2 683.4,543.5 684.8,535.2 686.3,543.5 687.8,535.2 689.1,535.2 706.6,527.9 707.1,519.6 707.8,535.2 708.9,527.9 713.0,519.6 725.9,527.9 726.8,559.2 727.4,600.0 734.1,727.2 736.1,680.3 738.8,727.2 740.8,703.7 742.8,735.2 744.4,703.7 746.9,735.2 749.1,695.7 750.9,735.2 753.1,695.7 755.6,735.2 757.3,688.4 758.2,712.4 759.6,680.3 761.6,626.8 764.9,600.0 764.1,596.0 766.3,589.5 767.2,596.9 773.3,589.5 776.4,574.3 777.3,582.2 778.8,574.3 780.3,582.2 781.7,574.3 783.2,582.2 784.3,574.3 800.9,566.5 801.6,574.3 802.7,566.5 804.6,574.3 806.4,566.5 808.3,574.3 810.1,566.5 811.9,574.3 813.8,566.5 815.6,574.3 817.5,566.5 819.3,574.3 821.1,566.5 823.0,574.3 824.8,566.5 826.7,574.3 850.1,566.5 851.0,574.3 851.9,566.5 852.8,574.3 853.7,566.5 854.7,574.3 855.6,566.5 856.5,574.3 857.4,566.5 858.3,574.3 859.3,566.5 860.2,574.3 861.1,566.5 862.0,574.3 862.9,566.5 863.9,574.3 864.8,566.5 865.7,574.3 866.6,566.5 867.5,574.3 869.6,566.5 871.6,574.3 873.6,566.5 875.6,574.3 877.7,566.5 879.7,574.3 881.7,566.5 883.7,574.3 885.6,566.5 891.5,559.2 892.2,566.5 893.5,559.2 894.8,566.5 896.1,559.2 897.4,566.5 898.8,566.5 902.2,574.3 902.5,566.5 906.2,559.2 907.3,566.5 909.2,559.2 911.0,566.5 912.8,559.2 914.7,566.5 916.5,559.2 918.4,566.5 920.2,559.2 921.7,566.5 922.6,559.2 923.5,566.5 924.4,559.2 925.4,566.5 926.3,559.2 927.2,566.5 928.1,559.2 929.0,566.5 930.0,559.2 930.9,566.5 931.8,559.2 932.9,566.5 934.7,559.2 936.6,566.5 938.4,559.2 940.3,566.5 942.1,559.2 944.0,559.2 959.2,550.9 960.0,559.2 961.1,550.9 962.7,559.2 964.4,550.9 966.0,559.2 967.7,550.9 970.3,559.2 987.2,550.9 987.8,559.2 995.5,550.9 996.1,543.5 997.0,550.9 997.9,543.5 998.8,550.9 999.7,543.5 1000.0,550.9 1001.5,543.5 1007.4,535.2 1008.1,543.5 1011.0,535.2 1014.7,543.5 1016.9,535.2 1020.3,543.5 1021.4,535.2 1022.6,543.5 1023.9,535.2 1025.2,543.5 1026.5,535.2 1027.8,543.5 1029.1,535.2 1030.4,543.5 1031.7,535.2 1033.0,543.5 1034.2,535.2 1035.5,543.5 1036.8,535.2 1038.1,543.5 1039.4,535.2 1042.3,535.2 1058.9,543.5 1059.8,535.2 1060.8,543.5 1062.0,535.2 1063.3,543.5 1064.6,535.2 1066.3,535.2 1072.7,543.5 1073.3,535.2 1074.4,543.5 1075.5,535.2 1076.6,543.5 1078.2,543.5 1085.1,535.2 1085.8,543.5 1086.9,535.2 1088.0,543.5 1089.1,535.2 1090.2,543.5 1091.3,535.2 1092.4,543.5 1093.5,535.2 1094.6,543.5 1095.7,535.2 1096.8,543.5 1097.9,535.2 1099.1,543.5 1100.2,535.2 1101.3,543.5 1102.4,535.2 1103.5,543.5 1104.6,535.2 1105.7,543.5 1106.8,535.2 1107.9,543.5 1109.0,535.2 1112.3,527.9 1112.9,535.2 1116.0,519.6 1119.7,527.9 1121.5,519.6 1125.2,527.9 1126.3,519.6 1127.4,527.9 1128.5,519.6 1129.6,527.9 1130.7,519.6 1131.8,527.9 1132.9,519.6 1134.0,527.9 1135.1,519.6 1136.2,527.9 1137.3,519.6 1137.3,796.4" fill="#ff780a" fill-opacity="0.10"/><polyline points="102.0,543.5 104.2,535.2 105.1,543.5 117.1,535.2 117.5,543.5 121.7,552.7 122.2,559.2 123.5,550.9 124.5,559.2 125.9,550.9 126.7,559.2 128.1,551.8 134.6,559.2 135.5,550.9 137.7,543.5 138.8,550.9 144.7,559.2 145.6,551.8 147.1,559.2 148.4,550.9 149.9,559.2 151.3,550.9 157.6,559.2 159.4,551.8 161.3,555.5 163.1,550.9 164.6,559.2 165.9,551.8 169.6,559.2 170.9,543.5 173.2,543.5 173.8,551.8 175.3,559.2 176.2,551.8 176.9,559.2 185.2,550.9 186.5,559.2 188.9,543.5 203.3,535.2 224.4,543.5 225.7,566.5 226.5,627.3 228.9,681.6 230.3,627.3 231.6,583.1 233.1,559.2 234.9,543.5 240.5,535.2 242.3,535.2 242.5,543.5 243.4,535.2 245.1,535.2 245.4,543.5 259.8,550.9 260.7,559.2 261.6,550.9 262.5,559.2 267.1,570.2 267.7,574.3 269.0,566.5 269.4,574.3 289.8,566.5 290.2,574.3 310.8,566.5 311.3,574.3 313.2,566.5 314.1,574.3 315.8,566.5 317.4,574.3 319.1,566.5 320.7,574.3 322.4,566.5 324.0,574.3 325.7,566.5 327.4,574.3 331.6,566.5 333.4,574.3 336.2,566.5 337.7,574.3 339.9,566.5 342.1,574.3 344.3,566.5 346.5,574.3 348.7,566.5 350.9,574.3 354.6,566.5 359.2,574.3 360.1,566.5 361.8,574.3 363.4,566.5 365.1,574.3 366.8,566.5 368.4,574.3 370.1,566.5 372.1,566.5 381.3,574.3 382.2,566.5 383.1,574.3 384.1,566.5 385.0,574.3 385.9,566.5 386.8,574.3 387.7,566.5 388.7,574.3 389.6,566.5 390.5,574.3 391.4,566.5 392.3,574.3 393.3,566.5 394.2,574.3 395.1,566.5 396.0,574.3 396.9,566.5 397.9,574.3 398.8,566.5 399.7,574.3 400.0,566.5 401.1,574.3 402.2,566.5 403.3,574.3 404.4,566.5 405.5,574.3 406.6,566.5 407.7,574.3 408.8,566.5 409.9,574.3 411.0,566.5 412.2,574.3 413.3,566.5 414.4,574.3 415.5,566.5 416.6,574.3 417.7,566.5 420.3,566.5 425.4,574.3 426.1,559.2 427.2,566.5 428.7,559.2 430.2,566.5 431.7,559.2 433.1,566.5 434.6,559.2 436.1,566.5 437.6,559.2 439.0,566.5 440.5,559.2 442.0,566.5 443.5,559.2 444.9,566.5 446.4,559.2 447.9,566.5 449.3,559.2 450.8,566.5 452.5,559.2 465.4,566.5 465.9,559.2 466.8,566.5 467.8,559.2 468.7,566.5 469.6,559.2 470.0,559.2 475.1,543.5 475.9,550.9 477.5,543.5 479.2,550.9 480.8,543.5 482.5,550.9 484.1,543.5 485.8,550.9 487.5,543.5 488.7,543.5 495.4,535.2 497.2,543.5 499.4,535.2 504.9,543.5 506.4,535.2 508.1,543.5 509.7,535.2 511.4,543.5 513.0,535.2 514.7,543.5 516.4,535.2 518.0,543.5 519.7,535.2 521.9,535.2 528.9,550.9 529.4,543.5 530.7,559.2 548.2,550.9 549.1,559.2 561.7,566.5 562.4,559.2 563.9,566.5 565.3,559.2 566.8,566.5 568.3,559.2 569.8,566.5 571.2,559.2 572.1,559.2 582.3,550.9 583.2,559.2 585.0,550.9 586.9,543.5 587.8,550.9 590.6,535.2 592.4,535.2 597.9,543.5 599.8,535.2 601.1,543.5 602.2,535.2 603.3,543.5 604.4,535.2 605.5,543.5 606.6,535.2 607.7,543.5 608.8,535.2 609.9,543.5 611.0,535.2 612.1,543.5 613.2,535.2 614.3,543.5 615.4,535.2 616.5,543.5 617.6,535.2 618.7,543.5 619.8,535.2 620.9,543.5 622.0,535.2 623.1,543.5 624.6,543.5 650.8,550.9 651.3,543.5 653.2,550.9 654.1,543.5 658.7,535.2 659.6,543.5 661.1,535.2 662.5,543.5 664.0,535.2 665.5,543.5 667.0,535.2 667.9,543.5 672.5,535.2 678.0,543.5 678.9,535.2 680.4,543.5 681.9,535.2 683.4,543.5 684.8,535.2 686.3,543.5 687.8,535.2 689.1,535.2 706.6,527.9 707.1,519.6 707.8,535.2 708.9,527.9 713.0,519.6 725.9,527.9 726.8,559.2 727.4,600.0 734.1,727.2 736.1,680.3 738.8,727.2 740.8,703.7 742.8,735.2 744.4,703.7 746.9,735.2 749.1,695.7 750.9,735.2 753.1,695.7 755.6,735.2 757.3,688.4 758.2,712.4 759.6,680.3 761.6,626.8 764.9,600.0 764.1,596.0 766.3,589.5 767.2,596.9 773.3,589.5 776.4,574.3 777.3,582.2 778.8,574.3 780.3,582.2 781.7,574.3 783.2,582.2 784.3,574.3 800.9,566.5 801.6,574.3 802.7,566.5 804.6,574.3 806.4,566.5 808.3,574.3 810.1,566.5 811.9,574.3 813.8,566.5 815.6,574.3 817.5,566.5 819.3,574.3 821.1,566.5 823.0,574.3 824.8,566.5 826.7,574.3 850.1,566.5 851.0,574.3 851.9,566.5 852.8,574.3 853.7,566.5 854.7,574.3 855.6,566.5 856.5,574.3 857.4,566.5 858.3,574.3 859.3,566.5 860.2,574.3 861.1,566.5 862.0,574.3 862.9,566.5 863.9,574.3 864.8,566.5 865.7,574.3 866.6,566.5 867.5,574.3 869.6,566.5 871.6,574.3 873.6,566.5 875.6,574.3 877.7,566.5 879.7,574.3 881.7,566.5 883.7,574.3 885.6,566.5 891.5,559.2 892.2,566.5 893.5,559.2 894.8,566.5 896.1,559.2 897.4,566.5 898.8,566.5 902.2,574.3 902.5,566.5 906.2,559.2 907.3,566.5 909.2,559.2 911.0,566.5 912.8,559.2 914.7,566.5 916.5,559.2 918.4,566.5 920.2,559.2 921.7,566.5 922.6,559.2 923.5,566.5 924.4,559.2 925.4,566.5 926.3,559.2 927.2,566.5 928.1,559.2 929.0,566.5 930.0,559.2 930.9,566.5 931.8,559.2 932.9,566.5 934.7,559.2 936.6,566.5 938.4,559.2 940.3,566.5 942.1,559.2 944.0,559.2 959.2,550.9 960.0,559.2 961.1,550.9 962.7,559.2 964.4,550.9 966.0,559.2 967.7,550.9 970.3,559.2 987.2,550.9 987.8,559.2 995.5,550.9 996.1,543.5 997.0,550.9 997.9,543.5 998.8,550.9 999.7,543.5 1000.0,550.9 1001.5,543.5 1007.4,535.2 1008.1,543.5 1011.0,535.2 1014.7,543.5 1016.9,535.2 1020.3,543.5 1021.4,535.2 1022.6,543.5 1023.9,535.2 1025.2,543.5 1026.5,535.2 1027.8,543.5 1029.1,535.2 1030.4,543.5 1031.7,535.2 1033.0,543.5 1034.2,535.2 1035.5,543.5 1036.8,535.2 1038.1,543.5 1039.4,535.2 1042.3,535.2 1058.9,543.5 1059.8,535.2 1060.8,543.5 1062.0,535.2 1063.3,543.5 1064.6,535.2 1066.3,535.2 1072.7,543.5 1073.3,535.2 1074.4,543.5 1075.5,535.2 1076.6,543.5 1078.2,543.5 1085.1,535.2 1085.8,543.5 1086.9,535.2 1088.0,543.5 1089.1,535.2 1090.2,543.5 1091.3,535.2 1092.4,543.5 1093.5,535.2 1094.6,543.5 1095.7,535.2 1096.8,543.5 1097.9,535.2 1099.1,543.5 1100.2,535.2 1101.3,543.5 1102.4,535.2 1103.5,543.5 1104.6,535.2 1105.7,543.5 1106.8,535.2 1107.9,543.5 1109.0,535.2 1112.3,527.9 1112.9,535.2 1116.0,519.6 1119.7,527.9 1121.5,519.6 1125.2,527.9 1126.3,519.6 1127.4,527.9 1128.5,519.6 1129.6,527.9 1130.7,519.6 1131.8,527.9 1132.9,519.6 1134.0,527.9 1135.1,519.6 1136.2,527.9 1137.3,519.6" fill="none" stroke="#ff780a" stroke-width="2" stroke-linejoin="round"/></svg>
<span class="t" style="left:45.22px;top:477px;font-size:24.60px;line-height:27px;letter-spacing:-0.603px;-webkit-text-stroke:0.30px #d8d9da;">24.0</span>
<span class="t" style="left:45.22px;top:553px;font-size:24.60px;line-height:27px;letter-spacing:-0.603px;-webkit-text-stroke:0.30px #d8d9da;">23.0</span>
<span class="t" style="left:45.22px;top:629px;font-size:24.60px;line-height:27px;letter-spacing:-0.603px;-webkit-text-stroke:0.30px #d8d9da;">22.0</span>
<span class="t" style="left:45.22px;top:706px;font-size:24.60px;line-height:27px;letter-spacing:-0.603px;-webkit-text-stroke:0.30px #d8d9da;">21.0</span>
<span class="t" style="left:45.22px;top:782px;font-size:24.60px;line-height:27px;letter-spacing:-0.603px;-webkit-text-stroke:0.30px #d8d9da;">20.0</span>
<span class="t" style="left:183.12px;top:812px;font-size:24.60px;line-height:27px;letter-spacing:-0.252px;-webkit-text-stroke:0.30px #d8d9da;">3/7 00:00</span>
<span class="t" style="left:356.32px;top:812px;font-size:24.60px;line-height:27px;letter-spacing:-0.252px;-webkit-text-stroke:0.30px #d8d9da;">3/7 08:00</span>
<span class="t" style="left:529.52px;top:812px;font-size:24.60px;line-height:27px;letter-spacing:-0.252px;-webkit-text-stroke:0.30px #d8d9da;">3/7 16:00</span>
<span class="t" style="left:702.72px;top:812px;font-size:24.60px;line-height:27px;letter-spacing:-0.252px;-webkit-text-stroke:0.30px #d8d9da;">3/8 00:00</span>
<span class="t" style="left:875.92px;top:812px;font-size:24.60px;line-height:27px;letter-spacing:-0.252px;-webkit-text-stroke:0.30px #d8d9da;">3/8 08:00</span>
<span class="t" style="left:1049.12px;top:812px;font-size:24.60px;line-height:27px;letter-spacing:-0.252px;-webkit-text-stroke:0.30px #d8d9da;">3/8 16:00</span>
<div class="r" style="left:63.80px;top:872.70px;width:25.40px;height:7.50px;background:#ff780a;border-radius:2px"></div>
<span class="t" style="left:96.69px;top:863px;font-size:24.60px;line-height:27px;letter-spacing:-2.214px;-webkit-text-stroke:0.30px #d8d9da;">°C</span>
<!-- Watt -->
<span class="t title" style="left:188.94px;top:943px;font-size:28.50px;line-height:32px;letter-spacing:-0.859px;-webkit-text-stroke:1.30px #d8d9da;">Watt</span>
<div class="r" style="left:44.2px;top:1050px;width:124.8px;height:24px;border-radius:4px;background:radial-gradient(ellipse 48% 65% at 55% 50%,#f2495c 0%,#df4559 38%,#bd3d4f 82%,#aa394a 100%)"></div>
<div class="r" style="left:44.2px;top:1078px;width:124.8px;height:24px;border-radius:4px;background:radial-gradient(ellipse 48% 65% at 55% 50%,#f2495c 0%,#df4559 38%,#bd3d4f 82%,#aa394a 100%)"></div>
<div class="r" style="left:44.2px;top:1106px;width:124.8px;height:24px;border-radius:4px;background:radial-gradient(ellipse 48% 65% at 55% 50%,#f2495c 0%,#df4559 38%,#bd3d4f 82%,#aa394a 100%)"></div>
<div class="r" style="left:44.2px;top:1134px;width:124.8px;height:24px;border-radius:4px;background:radial-gradient(ellipse 48% 65% at 55% 50%,#f2495c 0%,#df4559 38%,#bd3d4f 82%,#aa394a 100%)"></div>
<div class="r" style="left:173.1px;top:1050px;width:125.8px;height:24px;border-radius:4px;background:#48262e"></div>
<div class="r" style="left:173.1px;top:1078px;width:125.8px;height:24px;border-radius:4px;background:#48262e"></div>
<div class="r" style="left:173.1px;top:1106px;width:125.8px;height:24px;border-radius:4px;background:#48262e"></div>
<div class="r" style="left:173.1px;top:1134px;width:125.8px;height:24px;border-radius:4px;background:radial-gradient(ellipse 48% 65% at 55% 50%,#f2495c 0%,#df4559 38%,#bd3d4f 82%,#aa394a 100%)"></div>
<div class="r" style="left:303.0px;top:1050px;width:125.0px;height:24px;border-radius:4px;background:radial-gradient(ellipse 48% 65% at 55% 50%,#f2495c 0%,#df4559 38%,#bd3d4f 82%,#aa394a 100%)"></div>
<div class="r" style="left:303.0px;top:1078px;width:125.0px;height:24px;border-radius:4px;background:radial-gradient(ellipse 48% 65% at 55% 50%,#f2495c 0%,#df4559 38%,#bd3d4f 82%,#aa394a 100%)"></div>
<div class="r" style="left:303.0px;top:1106px;width:125.0px;height:24px;border-radius:4px;background:radial-gradient(ellipse 48% 65% at 55% 50%,#f2495c 0%,#df4559 38%,#bd3d4f 82%,#aa394a 100%)"></div>
<div class="r" style="left:303.0px;top:1134px;width:125.0px;height:24px;border-radius:4px;background:radial-gradient(ellipse 48% 65% at 55% 50%,#f2495c 0%,#df4559 38%,#bd3d4f 82%,#aa394a 100%)"></div>
<span class="t" style="left:75.59px;top:1007px;font-size:37.60px;line-height:42px;letter-spacing:-0.045px;-webkit-text-stroke:0.30px #f2495c;color:#f2495c;">162</span>
<span class="t" style="left:204.09px;top:1007px;font-size:37.60px;line-height:42px;letter-spacing:0.073px;-webkit-text-stroke:0.30px #f2495c;color:#f2495c;">106</span>
<span class="t" style="left:333.59px;top:1007px;font-size:37.60px;line-height:42px;letter-spacing:-0.127px;-webkit-text-stroke:0.30px #f2495c;color:#f2495c;">158</span>
<span class="t" style="left:57.34px;top:1163px;font-size:27.40px;line-height:31px;letter-spacing:-0.369px;-webkit-text-stroke:0.30px #d8d9da;">W.mean</span>
<span class="t" style="left:186.34px;top:1163px;font-size:27.40px;line-height:31px;letter-spacing:-0.289px;-webkit-text-stroke:0.30px #d8d9da;">W.mean</span>
<span class="t" style="left:316.04px;top:1163px;font-size:27.40px;line-height:31px;letter-spacing:-0.329px;-webkit-text-stroke:0.30px #d8d9da;">W.mean</span>
<!-- Panel Title -->
<span class="t title" style="left:584.51px;top:943px;font-size:28.50px;line-height:32px;letter-spacing:0.034px;-webkit-text-stroke:1.30px #d8d9da;">Panel Title</span>
<span class="t" style="left:640.99px;top:1001px;font-size:37.60px;line-height:42px;letter-spacing:-0.602px;-webkit-text-stroke:0.30px #f2495c;color:#f2495c;">119</span>
<div class="r" style="left:480.00px;top:1046.00px;width:384.00px;height:117.60px;background:#323234;border-radius:5px"></div>
<span class="t" style="left:642.30px;top:1164px;font-size:27.40px;line-height:31px;letter-spacing:0.426px;-webkit-text-stroke:0.30px #d8d9da;">Date</span>
<!-- stat tiles -->
<div class="tile" style="left:902px;top:932px;width:308px;height:132px;background:#c4162a"></div>
<span class="t title" style="left:1000.21px;top:943px;font-size:28.50px;line-height:32px;letter-spacing:-0.369px;-webkit-text-stroke:1.30px #d8d9da;">Passage</span>
<svg class="ch one" style="left:1041.0px;top:1009.0px" width="24" height="48" viewBox="1041.0 1009.0 24 48"><text x="1056" y="1055" text-anchor="middle" font-family="'Liberation Sans',sans-serif" font-size="61.5" fill="#d8d9da" stroke="#d8d9da" stroke-width="1.5">1</text></svg>
<svg class="sp" style="left:1175.2px;top:943.2px" width="30" height="30" viewBox="-15 -15 30 30"><circle cx="9.31" cy="-1.31" r="2.90" opacity="1.00"/><circle cx="5.66" cy="-7.51" r="2.40" opacity="0.85"/><circle cx="-1.31" cy="-9.31" r="2.00" opacity="0.80"/><circle cx="-7.51" cy="-5.66" r="1.70" opacity="0.75"/><circle cx="-9.31" cy="1.31" r="1.60" opacity="0.70"/><circle cx="-5.66" cy="7.51" r="1.65" opacity="0.70"/><circle cx="1.31" cy="9.31" r="1.60" opacity="0.70"/><circle cx="7.51" cy="5.66" r="1.65" opacity="0.70"/></svg>
<div class="tile" style="left:902px;top:1084px;width:308px;height:132px;background:#c4162a"></div>
<span class="t title" style="left:998.91px;top:1095px;font-size:28.50px;line-height:32px;letter-spacing:-0.354px;-webkit-text-stroke:1.30px #d8d9da;">Entrance</span>
<svg class="ch one" style="left:1041.0px;top:1161.0px" width="24" height="48" viewBox="1041.0 1161.0 24 48"><text x="1056" y="1207" text-anchor="middle" font-family="'Liberation Sans',sans-serif" font-size="61.5" fill="#d8d9da" stroke="#d8d9da" stroke-width="1.5">1</text></svg>
<svg class="sp" style="left:1175.2px;top:1095.2px" width="30" height="30" viewBox="-15 -15 30 30"><circle cx="9.31" cy="-1.31" r="2.90" opacity="1.00"/><circle cx="5.66" cy="-7.51" r="2.40" opacity="0.85"/><circle cx="-1.31" cy="-9.31" r="2.00" opacity="0.80"/><circle cx="-7.51" cy="-5.66" r="1.70" opacity="0.75"/><circle cx="-9.31" cy="1.31" r="1.60" opacity="0.70"/><circle cx="-5.66" cy="7.51" r="1.65" opacity="0.70"/><circle cx="1.31" cy="9.31" r="1.60" opacity="0.70"/><circle cx="7.51" cy="5.66" r="1.65" opacity="0.70"/></svg>
<div class="tile" style="left:1228px;top:552px;width:308px;height:208px;background:#c4162a"></div>
<span class="t title" style="left:1311.61px;top:563px;font-size:28.50px;line-height:32px;letter-spacing:-0.588px;-webkit-text-stroke:1.30px #d8d9da;">Bedroom 1</span>
<svg class="ch one" style="left:1367.0px;top:659.0px" width="24" height="48" viewBox="1367.0 659.0 24 48"><text x="1382" y="705" text-anchor="middle" font-family="'Liberation Sans',sans-serif" font-size="61.5" fill="#d8d9da" stroke="#d8d9da" stroke-width="1.5">1</text></svg>
<div class="tile" style="left:1556px;top:552px;width:308px;height:208px;background:#c4162a"></div>
<span class="t title" style="left:1639.51px;top:563px;font-size:28.50px;line-height:32px;letter-spacing:-0.181px;-webkit-text-stroke:1.30px #d8d9da;">Bedroom 2</span>
<svg class="ch one" style="left:1695.0px;top:659.0px" width="24" height="48" viewBox="1695.0 659.0 24 48"><text x="1710" y="705" text-anchor="middle" font-family="'Liberation Sans',sans-serif" font-size="61.5" fill="#d8d9da" stroke="#d8d9da" stroke-width="1.5">1</text></svg>
<div class="tile" style="left:1228px;top:780px;width:308px;height:208px;background:#c4162a"></div>
<span class="t title" style="left:1307.81px;top:791px;font-size:28.50px;line-height:32px;letter-spacing:-0.450px;-webkit-text-stroke:1.30px #d8d9da;">Dining Area</span>
<svg class="ch one" style="left:1367.0px;top:887.0px" width="24" height="48" viewBox="1367.0 887.0 24 48"><text x="1382" y="933" text-anchor="middle" font-family="'Liberation Sans',sans-serif" font-size="61.5" fill="#d8d9da" stroke="#d8d9da" stroke-width="1.5">1</text></svg>
<svg class="sp" style="left:1501.2px;top:791.2px" width="30" height="30" viewBox="-15 -15 30 30"><circle cx="9.31" cy="-1.31" r="2.90" opacity="1.00"/><circle cx="5.66" cy="-7.51" r="2.40" opacity="0.85"/><circle cx="-1.31" cy="-9.31" r="2.00" opacity="0.80"/><circle cx="-7.51" cy="-5.66" r="1.70" opacity="0.75"/><circle cx="-9.31" cy="1.31" r="1.60" opacity="0.70"/><circle cx="-5.66" cy="7.51" r="1.65" opacity="0.70"/><circle cx="1.31" cy="9.31" r="1.60" opacity="0.70"/><circle cx="7.51" cy="5.66" r="1.65" opacity="0.70"/></svg>
<div class="tile" style="left:1556px;top:780px;width:308px;height:208px;background:#c4162a"></div>
<span class="t title" style="left:1638.61px;top:791px;font-size:28.50px;line-height:32px;letter-spacing:-0.347px;-webkit-text-stroke:1.30px #d8d9da;">Living Area</span>
<svg class="ch one" style="left:1695.0px;top:887.0px" width="24" height="48" viewBox="1695.0 887.0 24 48"><text x="1710" y="933" text-anchor="middle" font-family="'Liberation Sans',sans-serif" font-size="61.5" fill="#d8d9da" stroke="#d8d9da" stroke-width="1.5">1</text></svg>
<svg class="sp" style="left:1829.2px;top:791.2px" width="30" height="30" viewBox="-15 -15 30 30"><circle cx="9.31" cy="-1.31" r="2.90" opacity="1.00"/><circle cx="5.66" cy="-7.51" r="2.40" opacity="0.85"/><circle cx="-1.31" cy="-9.31" r="2.00" opacity="0.80"/><circle cx="-7.51" cy="-5.66" r="1.70" opacity="0.75"/><circle cx="-9.31" cy="1.31" r="1.60" opacity="0.70"/><circle cx="-5.66" cy="7.51" r="1.65" opacity="0.70"/><circle cx="1.31" cy="9.31" r="1.60" opacity="0.70"/><circle cx="7.51" cy="5.66" r="1.65" opacity="0.70"/></svg>
<div class="tile" style="left:1228px;top:1008px;width:308px;height:208px;background:#299c46"></div>
<span class="t title" style="left:1325.42px;top:1019px;font-size:28.50px;line-height:32px;letter-spacing:-0.602px;-webkit-text-stroke:1.30px #d8d9da;">Glue gun</span>
<svg class="ch zero" style="left:1365.0px;top:1114.0px" width="34" height="50" viewBox="-17 -25 34 50"><text x="0" y="22" text-anchor="middle" font-family="'Liberation Sans',sans-serif" font-size="62" fill="#d8d9da" stroke="#d8d9da" stroke-width="1.5">0</text></svg>
<svg class="sp" style="left:1501.2px;top:1019.2px" width="30" height="30" viewBox="-15 -15 30 30"><circle cx="9.31" cy="-1.31" r="2.90" opacity="1.00"/><circle cx="5.66" cy="-7.51" r="2.40" opacity="0.85"/><circle cx="-1.31" cy="-9.31" r="2.00" opacity="0.80"/><circle cx="-7.51" cy="-5.66" r="1.70" opacity="0.75"/><circle cx="-9.31" cy="1.31" r="1.60" opacity="0.70"/><circle cx="-5.66" cy="7.51" r="1.65" opacity="0.70"/><circle cx="1.31" cy="9.31" r="1.60" opacity="0.70"/><circle cx="7.51" cy="5.66" r="1.65" opacity="0.70"/></svg>
<div class="tile" style="left:1556px;top:1008px;width:308px;height:208px;background:#299c46"></div>
<span class="t title" style="left:1621.17px;top:1019px;font-size:28.50px;line-height:32px;letter-spacing:-0.103px;-webkit-text-stroke:1.30px #d8d9da;">Soldering Iron</span>
<svg class="ch zero" style="left:1693.0px;top:1114.0px" width="34" height="50" viewBox="-17 -25 34 50"><text x="0" y="22" text-anchor="middle" font-family="'Liberation Sans',sans-serif" font-size="62" fill="#d8d9da" stroke="#d8d9da" stroke-width="1.5">0</text></svg>
<svg class="sp" style="left:1829.2px;top:1019.2px" width="30" height="30" viewBox="-15 -15 30 30"><circle cx="9.31" cy="-1.31" r="2.90" opacity="1.00"/><circle cx="5.66" cy="-7.51" r="2.40" opacity="0.85"/><circle cx="-1.31" cy="-9.31" r="2.00" opacity="0.80"/><circle cx="-7.51" cy="-5.66" r="1.70" opacity="0.75"/><circle cx="-9.31" cy="1.31" r="1.60" opacity="0.70"/><circle cx="-5.66" cy="7.51" r="1.65" opacity="0.70"/><circle cx="1.31" cy="9.31" r="1.60" opacity="0.70"/><circle cx="7.51" cy="5.66" r="1.65" opacity="0.70"/></svg>
<!-- Load level table -->
<span class="t title" style="left:2203.26px;top:567px;font-size:23.60px;line-height:26px;letter-spacing:-0.533px;-webkit-text-stroke:1.00px #d8d9da;">Load level</span>
<svg class="sp" style="left:2593.4px;top:563.1px" width="30" height="30" viewBox="-15 -15 30 30"><circle cx="9.31" cy="-1.31" r="2.90" opacity="1.00"/><circle cx="5.66" cy="-7.51" r="2.40" opacity="0.85"/><circle cx="-1.31" cy="-9.31" r="2.00" opacity="0.80"/><circle cx="-7.51" cy="-5.66" r="1.70" opacity="0.75"/><circle cx="-9.31" cy="1.31" r="1.60" opacity="0.70"/><circle cx="-5.66" cy="7.51" r="1.65" opacity="0.70"/><circle cx="1.31" cy="9.31" r="1.60" opacity="0.70"/><circle cx="7.51" cy="5.66" r="1.65" opacity="0.70"/></svg>
<div class="r" style="left:1900.00px;top:624.00px;width:712.00px;height:4.00px;background:#151517;"></div>
<div class="r" style="left:1900.00px;top:628.00px;width:712.00px;height:37.20px;background:#2d2d30;background:linear-gradient(135deg,#2a2a2d,#303033 40%,#29292c)"></div>
<div class="r" style="left:1900.00px;top:665.20px;width:712.00px;height:3.80px;background:#151517;"></div>
<span class="t" style="left:1930.15px;top:633px;font-size:22.80px;line-height:26px;letter-spacing:-0.695px;font-weight:700;color:#33b5e5;">Time</span>
<svg class="ch" style="left:1986px;top:644px" width="14" height="8" viewBox="0 0 14 8"><path d="M0.3 0.4h13.2L6.9 7.4z" fill="#33b5e5"/></svg>
<span class="t" style="left:2216.80px;top:633px;font-size:22.80px;line-height:26px;letter-spacing:-0.969px;font-weight:700;color:#33b5e5;">Network Data</span>
<span class="t" style="left:2417.20px;top:633px;font-size:22.80px;line-height:26px;letter-spacing:-0.977px;font-weight:700;color:#33b5e5;">Free memmory</span>
<div class="r" style="left:2396.20px;top:672.70px;width:215.80px;height:1.50px;background:#37872d;"></div>
<div class="r" style="left:1900.00px;top:674.00px;width:712.00px;height:4.00px;background:#151517;"></div>
<div class="r" style="left:2189.00px;top:671.00px;width:4.00px;height:60.75px;background:#151517;"></div>
<div class="r" style="left:2392.20px;top:671.00px;width:4.00px;height:60.75px;background:#151517;"></div>
<span class="t" style="left:1929.39px;top:691px;font-size:23.20px;line-height:26px;letter-spacing:-0.543px;-webkit-text-stroke:0.30px #d8d9da;">2020-03-08 17:46:36</span>
<span class="t" style="left:2217.19px;top:691px;font-size:23.20px;line-height:26px;-webkit-text-stroke:0.30px #d8d9da;">-</span>
<div class="r" style="left:2396.20px;top:678.00px;width:215.80px;height:53.75px;background:#37872d;"></div>
<span class="t" style="left:2419.49px;top:691px;font-size:23.20px;line-height:26px;letter-spacing:-0.283px;-webkit-text-stroke:0.30px #fff;color:#fff;">220.60</span>
<div class="r" style="left:1900.00px;top:731.75px;width:712.00px;height:4.00px;background:#151517;"></div>
<div class="r" style="left:2189.00px;top:731.75px;width:4.00px;height:57.75px;background:#151517;"></div>
<div class="r" style="left:2392.20px;top:731.75px;width:4.00px;height:57.75px;background:#151517;"></div>
<span class="t" style="left:1929.39px;top:749px;font-size:23.20px;line-height:26px;letter-spacing:-0.561px;-webkit-text-stroke:0.30px #d8d9da;">2020-03-08 17:45:34</span>
<div class="r" style="left:2193.00px;top:735.75px;width:199.20px;height:53.75px;background:#37872d;"></div>
<span class="t" style="left:2217.19px;top:749px;font-size:23.20px;line-height:26px;letter-spacing:-0.331px;-webkit-text-stroke:0.30px #fff;color:#fff;">1.01 K</span>
<span class="t" style="left:2420.29px;top:749px;font-size:23.20px;line-height:26px;-webkit-text-stroke:0.30px #d8d9da;">-</span>
<div class="r" style="left:1900.00px;top:789.50px;width:712.00px;height:4.00px;background:#151517;"></div>
<div class="r" style="left:2189.00px;top:789.50px;width:4.00px;height:57.75px;background:#151517;"></div>
<div class="r" style="left:2392.20px;top:789.50px;width:4.00px;height:57.75px;background:#151517;"></div>
<span class="t" style="left:1929.39px;top:807px;font-size:23.20px;line-height:26px;letter-spacing:-0.561px;-webkit-text-stroke:0.30px #d8d9da;">2020-03-08 17:45:34</span>
<span class="t" style="left:2217.19px;top:807px;font-size:23.20px;line-height:26px;-webkit-text-stroke:0.30px #d8d9da;">-</span>
<div class="r" style="left:2396.20px;top:793.50px;width:215.80px;height:53.75px;background:#37872d;"></div>
<span class="t" style="left:2419.49px;top:807px;font-size:23.20px;line-height:26px;letter-spacing:-0.283px;-webkit-text-stroke:0.30px #fff;color:#fff;">220.50</span>
<div class="r" style="left:1900.00px;top:847.25px;width:712.00px;height:4.00px;background:#151517;"></div>
<div class="r" style="left:2189.00px;top:847.25px;width:4.00px;height:57.75px;background:#151517;"></div>
<div class="r" style="left:2392.20px;top:847.25px;width:4.00px;height:57.75px;background:#151517;"></div>
<span class="t" style="left:1929.39px;top:865px;font-size:23.20px;line-height:26px;letter-spacing:-0.543px;-webkit-text-stroke:0.30px #d8d9da;">2020-03-08 17:45:03</span>
<span class="t" style="left:2217.19px;top:865px;font-size:23.20px;line-height:26px;-webkit-text-stroke:0.30px #d8d9da;">-</span>
<div class="r" style="left:2396.20px;top:851.25px;width:215.80px;height:53.75px;background:#37872d;"></div>
<span class="t" style="left:2419.49px;top:865px;font-size:23.20px;line-height:26px;letter-spacing:-0.283px;-webkit-text-stroke:0.30px #fff;color:#fff;">219.90</span>
<div class="r" style="left:1900.00px;top:905.00px;width:712.00px;height:4.00px;background:#151517;"></div>
<div class="r" style="left:2189.00px;top:905.00px;width:4.00px;height:57.75px;background:#151517;"></div>
<div class="r" style="left:2392.20px;top:905.00px;width:4.00px;height:57.75px;background:#151517;"></div>
<span class="t" style="left:1929.39px;top:922px;font-size:23.20px;line-height:26px;letter-spacing:-0.534px;-webkit-text-stroke:0.30px #d8d9da;">2020-03-08 17:44:32</span>
<span class="t" style="left:2217.19px;top:922px;font-size:23.20px;line-height:26px;-webkit-text-stroke:0.30px #d8d9da;">-</span>
<div class="r" style="left:2396.20px;top:909.00px;width:215.80px;height:53.75px;background:#37872d;"></div>
<span class="t" style="left:2419.49px;top:922px;font-size:23.20px;line-height:26px;letter-spacing:-0.283px;-webkit-text-stroke:0.30px #fff;color:#fff;">219.60</span>
<div class="r" style="left:1900.00px;top:962.75px;width:712.00px;height:4.00px;background:#151517;"></div>
<div class="r" style="left:2189.00px;top:962.75px;width:4.00px;height:57.75px;background:#151517;"></div>
<div class="r" style="left:2392.20px;top:962.75px;width:4.00px;height:57.75px;background:#151517;"></div>
<span class="t" style="left:1929.39px;top:980px;font-size:23.20px;line-height:26px;letter-spacing:-0.692px;-webkit-text-stroke:0.30px #d8d9da;">2020-03-08 17:44:01</span>
<span class="t" style="left:2217.19px;top:980px;font-size:23.20px;line-height:26px;-webkit-text-stroke:0.30px #d8d9da;">-</span>
<div class="r" style="left:2396.20px;top:966.75px;width:215.80px;height:53.75px;background:#37872d;"></div>
<span class="t" style="left:2419.49px;top:980px;font-size:23.20px;line-height:26px;letter-spacing:-0.283px;-webkit-text-stroke:0.30px #fff;color:#fff;">219.00</span>
<div class="r" style="left:1900.00px;top:1020.50px;width:712.00px;height:4.00px;background:#151517;"></div>
<div class="r" style="left:2189.00px;top:1020.50px;width:4.00px;height:57.75px;background:#151517;"></div>
<div class="r" style="left:2392.20px;top:1020.50px;width:4.00px;height:57.75px;background:#151517;"></div>
<span class="t" style="left:1929.39px;top:1038px;font-size:23.20px;line-height:26px;letter-spacing:-0.692px;-webkit-text-stroke:0.30px #d8d9da;">2020-03-08 17:44:01</span>
<div class="r" style="left:2193.00px;top:1024.50px;width:199.20px;height:53.75px;background:#37872d;"></div>
<span class="t" style="left:2217.19px;top:1038px;font-size:23.20px;line-height:26px;letter-spacing:-0.331px;-webkit-text-stroke:0.30px #fff;color:#fff;">1.01 K</span>
<span class="t" style="left:2420.29px;top:1038px;font-size:23.20px;line-height:26px;-webkit-text-stroke:0.30px #d8d9da;">-</span>
<div class="r" style="left:1900.00px;top:1078.25px;width:712.00px;height:4.00px;background:#151517;"></div>
<div class="r" style="left:2189.00px;top:1078.25px;width:4.00px;height:56.45px;background:#151517;"></div>
<div class="r" style="left:2392.20px;top:1078.25px;width:4.00px;height:56.45px;background:#151517;"></div>
<span class="t" style="left:1929.39px;top:1096px;font-size:23.20px;line-height:26px;letter-spacing:-0.549px;-webkit-text-stroke:0.30px #d8d9da;">2020-03-08 17:43:30</span>
<span class="t" style="left:2217.19px;top:1096px;font-size:23.20px;line-height:26px;-webkit-text-stroke:0.30px #d8d9da;">-</span>
<div class="r" style="left:2396.20px;top:1082.25px;width:215.80px;height:52.45px;background:#37872d;"></div>
<span class="t" style="left:2419.49px;top:1096px;font-size:23.20px;line-height:26px;letter-spacing:-0.283px;-webkit-text-stroke:0.30px #fff;color:#fff;">220.10</span>
<span class="t" style="left:2012.04px;top:1144px;font-size:23.20px;line-height:26px;font-weight:700;color:#33b5e5;">1</span>
<span class="t" style="left:2071.80px;top:1144px;font-size:23.20px;line-height:26px;-webkit-text-stroke:0.30px #d8d9da;">2</span>
<span class="t" style="left:2131.21px;top:1144px;font-size:23.20px;line-height:26px;-webkit-text-stroke:0.30px #d8d9da;">3</span>
<span class="t" style="left:2190.58px;top:1144px;font-size:23.20px;line-height:26px;-webkit-text-stroke:0.30px #d8d9da;">4</span>
<span class="t" style="left:2249.86px;top:1144px;font-size:23.20px;line-height:26px;-webkit-text-stroke:0.30px #d8d9da;">5</span>
<span class="t" style="left:2309.12px;top:1144px;font-size:23.20px;line-height:26px;-webkit-text-stroke:0.30px #d8d9da;">6</span>
<span class="t" style="left:2368.54px;top:1144px;font-size:23.20px;line-height:26px;-webkit-text-stroke:0.30px #d8d9da;">7</span>
<span class="t" style="left:2427.90px;top:1144px;font-size:23.20px;line-height:26px;-webkit-text-stroke:0.30px #d8d9da;">8</span>
<span class="t" style="left:2487.26px;top:1144px;font-size:23.20px;line-height:26px;-webkit-text-stroke:0.30px #d8d9da;">9</span>
</div>
</body></html>
